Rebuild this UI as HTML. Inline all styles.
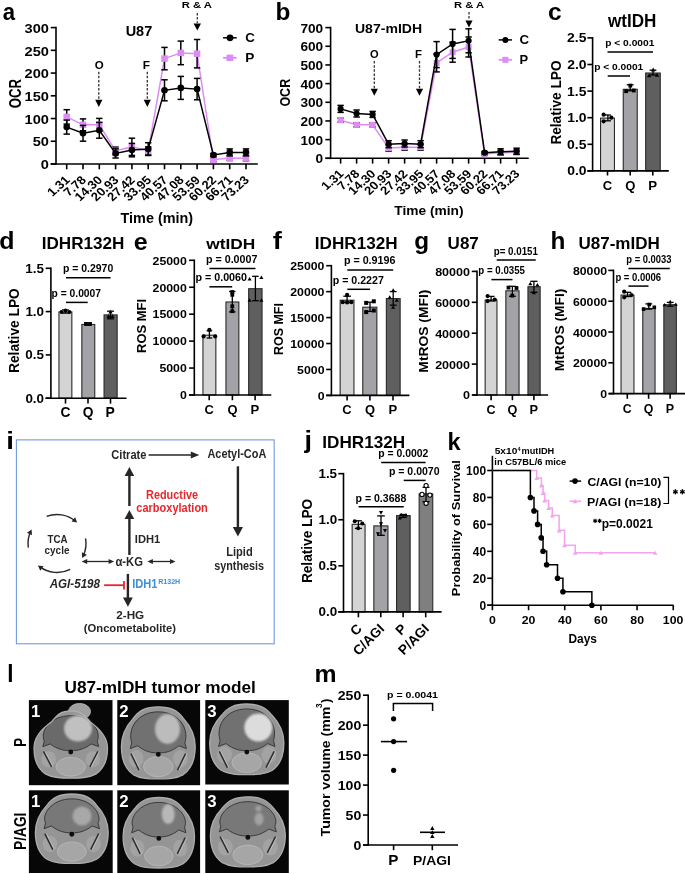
<!DOCTYPE html>
<html><head><meta charset="utf-8"><style>
html,body{margin:0;padding:0;background:#fff;}
svg{display:block;will-change:transform;}
text{font-family:"Liberation Sans", sans-serif;}
</style></head><body>
<svg width="685" height="874" viewBox="0 0 685 874">
<defs>
<filter id="bl07" x="-10%" y="-10%" width="120%" height="120%"><feGaussianBlur stdDeviation="0.7"/></filter>
<filter id="bl12" x="-50%" y="-50%" width="200%" height="200%"><feGaussianBlur stdDeviation="1.3"/></filter>
</defs>
<rect width="685" height="874" fill="#fff"/>
<rect x="28.9" y="700.1" width="83.60" height="85.10" fill="#070707"/><clipPath id="cp1700"><rect x="28.9" y="700.1" width="83.60" height="85.10"/></clipPath><clipPath id="hc1700"><path d="M 70.75 711.00 C 80.30 711.00 83.98 714.36 89.86 721.75 C 99.41 728.47 107.50 737.88 107.50 747.96 C 107.50 760.73 103.83 768.79 95.74 774.17 C 88.39 778.20 79.57 778.20 70.75 778.20 C 61.93 778.20 53.11 778.20 45.76 774.17 C 37.67 768.79 34.00 760.73 34.00 747.96 C 34.00 737.88 42.09 728.47 51.64 721.75 C 57.52 714.36 61.20 711.00 70.75 711.00 Z"/></clipPath><g clip-path="url(#cp1700)"><g filter="url(#bl07)"><ellipse cx="79.5" cy="711.5" rx="11.0" ry="8.0" fill="#a0a0a0" stroke="#b0b0b0" stroke-width="1.0"/><path d="M 70.75 711.00 C 80.30 711.00 83.98 714.36 89.86 721.75 C 99.41 728.47 107.50 737.88 107.50 747.96 C 107.50 760.73 103.83 768.79 95.74 774.17 C 88.39 778.20 79.57 778.20 70.75 778.20 C 61.93 778.20 53.11 778.20 45.76 774.17 C 37.67 768.79 34.00 760.73 34.00 747.96 C 34.00 737.88 42.09 728.47 51.64 721.75 C 57.52 714.36 61.20 711.00 70.75 711.00 Z" fill="#959595"/><g clip-path="url(#hc1700)"><ellipse cx="70.75" cy="766.78" rx="14.70" ry="9.41" fill="#a6a6a6" stroke="#bababa" stroke-width="0.8"/><ellipse cx="48.70" cy="759.38" rx="7.35" ry="8.06" fill="#a3a3a3"/><ellipse cx="92.80" cy="759.38" rx="7.35" ry="8.06" fill="#a3a3a3"/><path d="M 44.29 741.24 C 39.88 731.16 50.17 715.70 70.75 715.70 C 91.33 715.70 101.62 731.16 97.21 741.24 L 98.68 746.62 L 91.33 743.93 C 83.98 749.30 78.10 750.65 70.75 750.65 C 63.40 750.65 57.52 749.30 50.17 743.93 L 42.82 746.62 Z" fill="#6a6a6a" stroke="#3a3a3a" stroke-width="1.0"/><line x1="43.55" y1="751.32" x2="51.64" y2="766.78" stroke="#2e2e2e" stroke-width="1.6"/><line x1="45.05" y1="751.32" x2="53.14" y2="766.78" stroke="#c0c0c0" stroke-width="0.9"/><line x1="97.94" y1="751.32" x2="89.86" y2="766.78" stroke="#2e2e2e" stroke-width="1.6"/><line x1="99.44" y1="751.32" x2="91.36" y2="766.78" stroke="#c0c0c0" stroke-width="0.9"/><circle cx="70.75" cy="751.99" r="2.4" fill="#0a0a0a"/></g><path d="M 70.75 711.00 C 80.30 711.00 83.98 714.36 89.86 721.75 C 99.41 728.47 107.50 737.88 107.50 747.96 C 107.50 760.73 103.83 768.79 95.74 774.17 C 88.39 778.20 79.57 778.20 70.75 778.20 C 61.93 778.20 53.11 778.20 45.76 774.17 C 37.67 768.79 34.00 760.73 34.00 747.96 C 34.00 737.88 42.09 728.47 51.64 721.75 C 57.52 714.36 61.20 711.00 70.75 711.00 Z" fill="none" stroke="#adadad" stroke-width="1.3"/></g><ellipse cx="78.0" cy="728.5" rx="14.0" ry="13.0" fill="#c0c0c0" filter="url(#bl12)"/></g><text x="30.90" y="716.70" font-size="16.8" font-weight="bold" fill="#fff">1</text><rect x="117.3" y="700.1" width="82.80" height="85.10" fill="#070707"/><clipPath id="cp2700"><rect x="117.3" y="700.1" width="82.80" height="85.10"/></clipPath><clipPath id="hc2700"><path d="M 158.30 706.80 C 170.85 706.80 177.49 710.40 183.39 718.34 C 190.03 725.55 195.20 735.64 195.20 746.45 C 195.20 760.15 191.51 768.81 183.39 774.57 C 176.01 778.90 167.16 778.90 158.30 778.90 C 149.44 778.90 140.59 778.90 133.21 774.57 C 125.09 768.81 121.40 760.15 121.40 746.45 C 121.40 735.64 126.57 725.55 133.21 718.34 C 139.11 710.40 145.75 706.80 158.30 706.80 Z"/></clipPath><g clip-path="url(#cp2700)"><g filter="url(#bl07)"><path d="M 158.30 706.80 C 170.85 706.80 177.49 710.40 183.39 718.34 C 190.03 725.55 195.20 735.64 195.20 746.45 C 195.20 760.15 191.51 768.81 183.39 774.57 C 176.01 778.90 167.16 778.90 158.30 778.90 C 149.44 778.90 140.59 778.90 133.21 774.57 C 125.09 768.81 121.40 760.15 121.40 746.45 C 121.40 735.64 126.57 725.55 133.21 718.34 C 139.11 710.40 145.75 706.80 158.30 706.80 Z" fill="#959595"/><g clip-path="url(#hc2700)"><ellipse cx="158.30" cy="766.64" rx="14.76" ry="10.09" fill="#a6a6a6" stroke="#bababa" stroke-width="0.8"/><ellipse cx="136.16" cy="758.71" rx="7.38" ry="8.65" fill="#a3a3a3"/><ellipse cx="180.44" cy="758.71" rx="7.38" ry="8.65" fill="#a3a3a3"/><path d="M 131.73 742.85 C 127.30 728.43 137.64 711.85 158.30 711.85 C 178.96 711.85 189.30 728.43 184.87 742.85 L 186.34 748.62 L 178.96 745.73 C 171.58 751.50 165.68 752.94 158.30 752.94 C 150.92 752.94 145.02 751.50 137.64 745.73 L 130.26 748.62 Z" fill="#717171" stroke="#3a3a3a" stroke-width="1.0"/><line x1="130.99" y1="753.66" x2="139.11" y2="770.25" stroke="#2e2e2e" stroke-width="1.6"/><line x1="132.49" y1="753.66" x2="140.61" y2="770.25" stroke="#c0c0c0" stroke-width="0.9"/><line x1="185.61" y1="753.66" x2="177.49" y2="770.25" stroke="#2e2e2e" stroke-width="1.6"/><line x1="187.11" y1="753.66" x2="178.99" y2="770.25" stroke="#c0c0c0" stroke-width="0.9"/><circle cx="158.30" cy="754.39" r="2.4" fill="#0a0a0a"/></g><path d="M 158.30 706.80 C 170.85 706.80 177.49 710.40 183.39 718.34 C 190.03 725.55 195.20 735.64 195.20 746.45 C 195.20 760.15 191.51 768.81 183.39 774.57 C 176.01 778.90 167.16 778.90 158.30 778.90 C 149.44 778.90 140.59 778.90 133.21 774.57 C 125.09 768.81 121.40 760.15 121.40 746.45 C 121.40 735.64 126.57 725.55 133.21 718.34 C 139.11 710.40 145.75 706.80 158.30 706.80 Z" fill="none" stroke="#adadad" stroke-width="1.3"/></g><ellipse cx="167.5" cy="729.0" rx="12.5" ry="15.0" fill="#bcbcbc" filter="url(#bl12)"/></g><text x="119.30" y="716.70" font-size="16.8" font-weight="bold" fill="#fff">2</text><rect x="205.3" y="700.1" width="83.50" height="84.40" fill="#070707"/><clipPath id="cp3700"><rect x="205.3" y="700.1" width="83.50" height="84.40"/></clipPath><clipPath id="hc3700"><path d="M 246.80 704.00 C 259.41 704.00 266.09 707.53 272.03 715.31 C 278.71 722.38 283.90 732.28 283.90 742.88 C 283.90 756.32 280.19 764.80 272.03 770.46 C 264.61 774.70 255.70 774.70 246.80 774.70 C 237.90 774.70 228.99 774.70 221.57 770.46 C 213.41 764.80 209.70 756.32 209.70 742.88 C 209.70 732.28 214.89 722.38 221.57 715.31 C 227.51 707.53 234.19 704.00 246.80 704.00 Z"/></clipPath><g clip-path="url(#cp3700)"><g filter="url(#bl07)"><path d="M 246.80 704.00 C 259.41 704.00 266.09 707.53 272.03 715.31 C 278.71 722.38 283.90 732.28 283.90 742.88 C 283.90 756.32 280.19 764.80 272.03 770.46 C 264.61 774.70 255.70 774.70 246.80 774.70 C 237.90 774.70 228.99 774.70 221.57 770.46 C 213.41 764.80 209.70 756.32 209.70 742.88 C 209.70 732.28 214.89 722.38 221.57 715.31 C 227.51 707.53 234.19 704.00 246.80 704.00 Z" fill="#959595"/><g clip-path="url(#hc3700)"><ellipse cx="246.80" cy="762.68" rx="14.84" ry="9.90" fill="#a6a6a6" stroke="#bababa" stroke-width="0.8"/><ellipse cx="224.54" cy="754.90" rx="7.42" ry="8.48" fill="#a3a3a3"/><ellipse cx="269.06" cy="754.90" rx="7.42" ry="8.48" fill="#a3a3a3"/><path d="M 220.09 740.76 C 215.64 725.21 226.02 708.95 246.80 708.95 C 267.58 708.95 277.96 725.21 273.51 740.76 L 275.00 746.42 L 267.58 743.59 C 260.16 749.25 254.22 750.66 246.80 750.66 C 239.38 750.66 233.44 749.25 226.02 743.59 L 218.60 746.42 Z" fill="#717171" stroke="#3a3a3a" stroke-width="1.0"/><line x1="219.35" y1="751.37" x2="227.51" y2="767.63" stroke="#2e2e2e" stroke-width="1.6"/><line x1="220.85" y1="751.37" x2="229.01" y2="767.63" stroke="#c0c0c0" stroke-width="0.9"/><line x1="274.25" y1="751.37" x2="266.09" y2="767.63" stroke="#2e2e2e" stroke-width="1.6"/><line x1="275.75" y1="751.37" x2="267.59" y2="767.63" stroke="#c0c0c0" stroke-width="0.9"/><circle cx="246.80" cy="752.08" r="2.4" fill="#0a0a0a"/></g><path d="M 246.80 704.00 C 259.41 704.00 266.09 707.53 272.03 715.31 C 278.71 722.38 283.90 732.28 283.90 742.88 C 283.90 756.32 280.19 764.80 272.03 770.46 C 264.61 774.70 255.70 774.70 246.80 774.70 C 237.90 774.70 228.99 774.70 221.57 770.46 C 213.41 764.80 209.70 756.32 209.70 742.88 C 209.70 732.28 214.89 722.38 221.57 715.31 C 227.51 707.53 234.19 704.00 246.80 704.00 Z" fill="none" stroke="#adadad" stroke-width="1.3"/></g><ellipse cx="258.3" cy="727.6" rx="14.0" ry="14.0" fill="#dcdcdc" filter="url(#bl12)"/></g><text x="207.30" y="716.70" font-size="16.8" font-weight="bold" fill="#fff">3</text><rect x="28.9" y="790.3" width="83.80" height="82.70" fill="#070707"/><clipPath id="cp1790"><rect x="28.9" y="790.3" width="83.80" height="82.70"/></clipPath><clipPath id="hc1790"><path d="M 71.80 794.00 C 84.18 794.00 90.73 797.47 96.55 805.10 C 103.10 812.04 108.20 821.76 108.20 832.17 C 108.20 845.36 104.56 853.68 96.55 859.24 C 89.27 863.40 80.54 863.40 71.80 863.40 C 63.06 863.40 54.33 863.40 47.05 859.24 C 39.04 853.68 35.40 845.36 35.40 832.17 C 35.40 821.76 40.50 812.04 47.05 805.10 C 52.87 797.47 59.42 794.00 71.80 794.00 Z"/></clipPath><g clip-path="url(#cp1790)"><g filter="url(#bl07)"><path d="M 71.80 794.00 C 84.18 794.00 90.73 797.47 96.55 805.10 C 103.10 812.04 108.20 821.76 108.20 832.17 C 108.20 845.36 104.56 853.68 96.55 859.24 C 89.27 863.40 80.54 863.40 71.80 863.40 C 63.06 863.40 54.33 863.40 47.05 859.24 C 39.04 853.68 35.40 845.36 35.40 832.17 C 35.40 821.76 40.50 812.04 47.05 805.10 C 52.87 797.47 59.42 794.00 71.80 794.00 Z" fill="#959595"/><g clip-path="url(#hc1790)"><ellipse cx="71.80" cy="851.60" rx="14.56" ry="9.72" fill="#a6a6a6" stroke="#bababa" stroke-width="0.8"/><ellipse cx="49.96" cy="843.97" rx="7.28" ry="8.33" fill="#a3a3a3"/><ellipse cx="93.64" cy="843.97" rx="7.28" ry="8.33" fill="#a3a3a3"/><path d="M 45.59 823.15 C 41.22 814.82 51.42 798.86 71.80 798.86 C 92.18 798.86 102.38 814.82 98.01 823.15 L 99.46 828.70 L 92.18 825.92 C 84.90 831.48 79.08 832.86 71.80 832.86 C 64.52 832.86 58.70 831.48 51.42 825.92 L 44.14 828.70 Z" fill="#787878" stroke="#3a3a3a" stroke-width="1.0"/><line x1="44.86" y1="833.56" x2="52.87" y2="849.52" stroke="#2e2e2e" stroke-width="1.6"/><line x1="46.36" y1="833.56" x2="54.37" y2="849.52" stroke="#c0c0c0" stroke-width="0.9"/><line x1="98.74" y1="833.56" x2="90.73" y2="849.52" stroke="#2e2e2e" stroke-width="1.6"/><line x1="100.24" y1="833.56" x2="92.23" y2="849.52" stroke="#c0c0c0" stroke-width="0.9"/><circle cx="71.80" cy="834.25" r="2.4" fill="#0a0a0a"/></g><path d="M 71.80 794.00 C 84.18 794.00 90.73 797.47 96.55 805.10 C 103.10 812.04 108.20 821.76 108.20 832.17 C 108.20 845.36 104.56 853.68 96.55 859.24 C 89.27 863.40 80.54 863.40 71.80 863.40 C 63.06 863.40 54.33 863.40 47.05 859.24 C 39.04 853.68 35.40 845.36 35.40 832.17 C 35.40 821.76 40.50 812.04 47.05 805.10 C 52.87 797.47 59.42 794.00 71.80 794.00 Z" fill="none" stroke="#adadad" stroke-width="1.3"/></g><ellipse cx="82.0" cy="816.0" rx="9.5" ry="9.5" fill="#a8a8a8" filter="url(#bl12)"/></g><text x="30.90" y="806.90" font-size="16.8" font-weight="bold" fill="#fff">1</text><rect x="117.3" y="790.3" width="82.80" height="82.70" fill="#070707"/><clipPath id="cp2790"><rect x="117.3" y="790.3" width="82.80" height="82.70"/></clipPath><clipPath id="hc2790"><path d="M 158.80 797.50 C 170.94 797.50 177.36 801.02 183.08 808.78 C 189.50 815.83 194.50 825.70 194.50 836.27 C 194.50 849.67 190.93 858.13 183.08 863.77 C 175.94 868.00 167.37 868.00 158.80 868.00 C 150.23 868.00 141.66 868.00 134.52 863.77 C 126.67 858.13 123.10 849.67 123.10 836.27 C 123.10 825.70 128.10 815.83 134.52 808.78 C 140.24 801.02 146.66 797.50 158.80 797.50 Z"/></clipPath><g clip-path="url(#cp2790)"><g filter="url(#bl07)"><path d="M 158.80 797.50 C 170.94 797.50 177.36 801.02 183.08 808.78 C 189.50 815.83 194.50 825.70 194.50 836.27 C 194.50 849.67 190.93 858.13 183.08 863.77 C 175.94 868.00 167.37 868.00 158.80 868.00 C 150.23 868.00 141.66 868.00 134.52 863.77 C 126.67 858.13 123.10 849.67 123.10 836.27 C 123.10 825.70 128.10 815.83 134.52 808.78 C 140.24 801.02 146.66 797.50 158.80 797.50 Z" fill="#959595"/><g clip-path="url(#hc2790)"><ellipse cx="158.80" cy="856.01" rx="14.28" ry="9.87" fill="#a6a6a6" stroke="#bababa" stroke-width="0.8"/><ellipse cx="137.38" cy="848.26" rx="7.14" ry="8.46" fill="#a3a3a3"/><ellipse cx="180.22" cy="848.26" rx="7.14" ry="8.46" fill="#a3a3a3"/><path d="M 133.10 827.11 C 128.81 818.65 138.81 802.43 158.80 802.43 C 178.79 802.43 188.79 818.65 184.50 827.11 L 185.93 832.75 L 178.79 829.93 C 171.65 835.57 165.94 836.98 158.80 836.98 C 151.66 836.98 145.95 835.57 138.81 829.93 L 131.67 832.75 Z" fill="#787878" stroke="#3a3a3a" stroke-width="1.0"/><line x1="132.38" y1="837.68" x2="140.24" y2="853.90" stroke="#2e2e2e" stroke-width="1.6"/><line x1="133.88" y1="837.68" x2="141.74" y2="853.90" stroke="#c0c0c0" stroke-width="0.9"/><line x1="185.22" y1="837.68" x2="177.36" y2="853.90" stroke="#2e2e2e" stroke-width="1.6"/><line x1="186.72" y1="837.68" x2="178.86" y2="853.90" stroke="#c0c0c0" stroke-width="0.9"/><circle cx="158.80" cy="838.39" r="2.4" fill="#0a0a0a"/></g><path d="M 158.80 797.50 C 170.94 797.50 177.36 801.02 183.08 808.78 C 189.50 815.83 194.50 825.70 194.50 836.27 C 194.50 849.67 190.93 858.13 183.08 863.77 C 175.94 868.00 167.37 868.00 158.80 868.00 C 150.23 868.00 141.66 868.00 134.52 863.77 C 126.67 858.13 123.10 849.67 123.10 836.27 C 123.10 825.70 128.10 815.83 134.52 808.78 C 140.24 801.02 146.66 797.50 158.80 797.50 Z" fill="none" stroke="#adadad" stroke-width="1.3"/></g><ellipse cx="168.2" cy="814.1" rx="6.5" ry="10.0" fill="#b8b8b8" filter="url(#bl12)"/></g><text x="119.30" y="806.90" font-size="16.8" font-weight="bold" fill="#fff">2</text><rect x="205.3" y="790.3" width="83.50" height="82.70" fill="#070707"/><clipPath id="cp3790"><rect x="205.3" y="790.3" width="83.50" height="82.70"/></clipPath><clipPath id="hc3790"><path d="M 247.85 796.80 C 260.58 796.80 267.32 800.30 273.32 808.00 C 280.06 815.00 285.30 824.80 285.30 835.30 C 285.30 848.60 281.56 857.00 273.32 862.60 C 265.83 866.80 256.84 866.80 247.85 866.80 C 238.86 866.80 229.87 866.80 222.38 862.60 C 214.15 857.00 210.40 848.60 210.40 835.30 C 210.40 824.80 215.64 815.00 222.38 808.00 C 228.38 800.30 235.12 796.80 247.85 796.80 Z"/></clipPath><g clip-path="url(#cp3790)"><g filter="url(#bl07)"><path d="M 247.85 796.80 C 260.58 796.80 267.32 800.30 273.32 808.00 C 280.06 815.00 285.30 824.80 285.30 835.30 C 285.30 848.60 281.56 857.00 273.32 862.60 C 265.83 866.80 256.84 866.80 247.85 866.80 C 238.86 866.80 229.87 866.80 222.38 862.60 C 214.15 857.00 210.40 848.60 210.40 835.30 C 210.40 824.80 215.64 815.00 222.38 808.00 C 228.38 800.30 235.12 796.80 247.85 796.80 Z" fill="#959595"/><g clip-path="url(#hc3790)"><ellipse cx="247.85" cy="854.90" rx="14.98" ry="9.80" fill="#a6a6a6" stroke="#bababa" stroke-width="0.8"/><ellipse cx="225.38" cy="847.20" rx="7.49" ry="8.40" fill="#a3a3a3"/><ellipse cx="270.32" cy="847.20" rx="7.49" ry="8.40" fill="#a3a3a3"/><path d="M 220.89 826.20 C 216.39 817.80 226.88 801.70 247.85 801.70 C 268.82 801.70 279.31 817.80 274.81 826.20 L 276.31 831.80 L 268.82 829.00 C 261.33 834.60 255.34 836.00 247.85 836.00 C 240.36 836.00 234.37 834.60 226.88 829.00 L 219.39 831.80 Z" fill="#787878" stroke="#3a3a3a" stroke-width="1.0"/><line x1="220.14" y1="836.70" x2="228.38" y2="852.80" stroke="#2e2e2e" stroke-width="1.6"/><line x1="221.64" y1="836.70" x2="229.88" y2="852.80" stroke="#c0c0c0" stroke-width="0.9"/><line x1="275.56" y1="836.70" x2="267.32" y2="852.80" stroke="#2e2e2e" stroke-width="1.6"/><line x1="277.06" y1="836.70" x2="268.82" y2="852.80" stroke="#c0c0c0" stroke-width="0.9"/><circle cx="247.85" cy="837.40" r="2.4" fill="#0a0a0a"/></g><path d="M 247.85 796.80 C 260.58 796.80 267.32 800.30 273.32 808.00 C 280.06 815.00 285.30 824.80 285.30 835.30 C 285.30 848.60 281.56 857.00 273.32 862.60 C 265.83 866.80 256.84 866.80 247.85 866.80 C 238.86 866.80 229.87 866.80 222.38 862.60 C 214.15 857.00 210.40 848.60 210.40 835.30 C 210.40 824.80 215.64 815.00 222.38 808.00 C 228.38 800.30 235.12 796.80 247.85 796.80 Z" fill="none" stroke="#adadad" stroke-width="1.3"/></g><ellipse cx="259.0" cy="819.0" rx="4.5" ry="6.5" fill="#a2a2a2" filter="url(#bl12)"/><ellipse cx="258.5" cy="808.5" rx="3.0" ry="3.0" fill="#a0a0a0" filter="url(#bl12)"/></g><text x="207.30" y="806.90" font-size="16.8" font-weight="bold" fill="#fff">3</text>
<text transform="translate(2.84 19.60) scale(0.9092 1)" font-size="24.37" font-weight="bold" fill="#000">a</text>
<line x1="56.00" y1="26.79" x2="56.00" y2="164.80" stroke="#000" stroke-width="1.6"/>
<line x1="50.80" y1="164.00" x2="56.00" y2="164.00" stroke="#000" stroke-width="1.6"/>
<text transform="translate(40.77 169.20) scale(1.1070 1)" font-size="13.20" font-weight="bold" fill="#000">0</text>
<line x1="50.80" y1="141.26" x2="56.00" y2="141.26" stroke="#000" stroke-width="1.6"/>
<text transform="translate(32.66 146.46) scale(1.1070 1)" font-size="13.20" font-weight="bold" fill="#000">50</text>
<line x1="50.80" y1="118.53" x2="56.00" y2="118.53" stroke="#000" stroke-width="1.6"/>
<text transform="translate(24.52 123.73) scale(1.1070 1)" font-size="13.20" font-weight="bold" fill="#000">100</text>
<line x1="50.80" y1="95.80" x2="56.00" y2="95.80" stroke="#000" stroke-width="1.6"/>
<text transform="translate(24.52 101.00) scale(1.1070 1)" font-size="13.20" font-weight="bold" fill="#000">150</text>
<line x1="50.80" y1="73.06" x2="56.00" y2="73.06" stroke="#000" stroke-width="1.6"/>
<text transform="translate(24.52 78.26) scale(1.1070 1)" font-size="13.20" font-weight="bold" fill="#000">200</text>
<line x1="50.80" y1="50.33" x2="56.00" y2="50.33" stroke="#000" stroke-width="1.6"/>
<text transform="translate(24.52 55.53) scale(1.1070 1)" font-size="13.20" font-weight="bold" fill="#000">250</text>
<line x1="50.80" y1="27.59" x2="56.00" y2="27.59" stroke="#000" stroke-width="1.6"/>
<text transform="translate(24.52 32.79) scale(1.1070 1)" font-size="13.20" font-weight="bold" fill="#000">300</text>
<line x1="50.60" y1="164.00" x2="257.80" y2="164.00" stroke="#000" stroke-width="1.6"/>
<line x1="66.70" y1="164.00" x2="66.70" y2="169.30" stroke="#000" stroke-width="1.6"/>
<line x1="83.00" y1="164.00" x2="83.00" y2="169.30" stroke="#000" stroke-width="1.6"/>
<line x1="99.30" y1="164.00" x2="99.30" y2="169.30" stroke="#000" stroke-width="1.6"/>
<line x1="115.60" y1="164.00" x2="115.60" y2="169.30" stroke="#000" stroke-width="1.6"/>
<line x1="131.90" y1="164.00" x2="131.90" y2="169.30" stroke="#000" stroke-width="1.6"/>
<line x1="148.20" y1="164.00" x2="148.20" y2="169.30" stroke="#000" stroke-width="1.6"/>
<line x1="164.50" y1="164.00" x2="164.50" y2="169.30" stroke="#000" stroke-width="1.6"/>
<line x1="180.80" y1="164.00" x2="180.80" y2="169.30" stroke="#000" stroke-width="1.6"/>
<line x1="197.10" y1="164.00" x2="197.10" y2="169.30" stroke="#000" stroke-width="1.6"/>
<line x1="213.40" y1="164.00" x2="213.40" y2="169.30" stroke="#000" stroke-width="1.6"/>
<line x1="229.70" y1="164.00" x2="229.70" y2="169.30" stroke="#000" stroke-width="1.6"/>
<line x1="246.00" y1="164.00" x2="246.00" y2="169.30" stroke="#000" stroke-width="1.6"/>
<text transform="translate(125.63 35.80) scale(1.0222 1)" font-size="14.19" font-weight="bold" fill="#000">U87</text>
<text transform="translate(20.84 108.23) rotate(-90) scale(0.8189 1)" font-size="16.11" font-weight="bold" fill="#000">OCR</text>
<text transform="translate(94.64 68.80) scale(1.0427 1)" font-size="11.04" font-weight="bold" fill="#000">O</text>
<text transform="translate(142.80 68.80) scale(1.0695 1)" font-size="11.05" font-weight="bold" fill="#000">F</text>
<text transform="translate(181.64 8.10) scale(1.2592 1)" font-size="8.95" font-weight="bold" fill="#000">R &amp; A</text>
<line x1="98.80" y1="71.70" x2="98.80" y2="99.50" stroke="#333" stroke-width="1.3" stroke-dasharray="2.5 1.6"/>
<polygon points="95.20,99.80 102.40,99.80 98.80,106.90" fill="#000" stroke="none" stroke-width="1"/>
<line x1="147.30" y1="71.70" x2="147.30" y2="99.50" stroke="#333" stroke-width="1.3" stroke-dasharray="2.5 1.6"/>
<polygon points="143.70,99.80 150.90,99.80 147.30,106.90" fill="#000" stroke="none" stroke-width="1"/>
<line x1="197.30" y1="13.00" x2="197.30" y2="23.00" stroke="#333" stroke-width="1.3" stroke-dasharray="2.5 1.6"/>
<polygon points="193.60,23.40 201.00,23.40 197.30,30.40" fill="#000" stroke="none" stroke-width="1"/>
<polyline points="66.70,116.90 83.00,124.80 99.30,124.80 115.60,150.90 131.90,146.80 148.20,150.90 164.50,58.60 180.80,52.90 197.10,53.70 213.40,159.80 229.70,158.00 246.00,158.30" fill="none" stroke="#dc8cf4" stroke-width="1.5" stroke-linejoin="miter"/>
<line x1="66.70" y1="109.70" x2="66.70" y2="124.10" stroke="#000" stroke-width="1.5"/>
<line x1="63.50" y1="109.70" x2="69.90" y2="109.70" stroke="#000" stroke-width="1.5"/>
<line x1="63.50" y1="124.10" x2="69.90" y2="124.10" stroke="#000" stroke-width="1.5"/>
<line x1="83.00" y1="118.90" x2="83.00" y2="130.70" stroke="#000" stroke-width="1.5"/>
<line x1="79.80" y1="118.90" x2="86.20" y2="118.90" stroke="#000" stroke-width="1.5"/>
<line x1="79.80" y1="130.70" x2="86.20" y2="130.70" stroke="#000" stroke-width="1.5"/>
<line x1="99.30" y1="118.40" x2="99.30" y2="131.20" stroke="#000" stroke-width="1.5"/>
<line x1="96.10" y1="118.40" x2="102.50" y2="118.40" stroke="#000" stroke-width="1.5"/>
<line x1="96.10" y1="131.20" x2="102.50" y2="131.20" stroke="#000" stroke-width="1.5"/>
<line x1="115.60" y1="147.10" x2="115.60" y2="154.70" stroke="#000" stroke-width="1.5"/>
<line x1="112.40" y1="147.10" x2="118.80" y2="147.10" stroke="#000" stroke-width="1.5"/>
<line x1="112.40" y1="154.70" x2="118.80" y2="154.70" stroke="#000" stroke-width="1.5"/>
<line x1="131.90" y1="138.20" x2="131.90" y2="155.40" stroke="#000" stroke-width="1.5"/>
<line x1="128.70" y1="138.20" x2="135.10" y2="138.20" stroke="#000" stroke-width="1.5"/>
<line x1="128.70" y1="155.40" x2="135.10" y2="155.40" stroke="#000" stroke-width="1.5"/>
<line x1="148.20" y1="146.90" x2="148.20" y2="154.90" stroke="#000" stroke-width="1.5"/>
<line x1="145.00" y1="146.90" x2="151.40" y2="146.90" stroke="#000" stroke-width="1.5"/>
<line x1="145.00" y1="154.90" x2="151.40" y2="154.90" stroke="#000" stroke-width="1.5"/>
<line x1="164.50" y1="47.40" x2="164.50" y2="69.80" stroke="#000" stroke-width="1.5"/>
<line x1="161.30" y1="47.40" x2="167.70" y2="47.40" stroke="#000" stroke-width="1.5"/>
<line x1="161.30" y1="69.80" x2="167.70" y2="69.80" stroke="#000" stroke-width="1.5"/>
<line x1="180.80" y1="41.10" x2="180.80" y2="64.70" stroke="#000" stroke-width="1.5"/>
<line x1="177.60" y1="41.10" x2="184.00" y2="41.10" stroke="#000" stroke-width="1.5"/>
<line x1="177.60" y1="64.70" x2="184.00" y2="64.70" stroke="#000" stroke-width="1.5"/>
<line x1="197.10" y1="39.50" x2="197.10" y2="67.90" stroke="#000" stroke-width="1.5"/>
<line x1="193.90" y1="39.50" x2="200.30" y2="39.50" stroke="#000" stroke-width="1.5"/>
<line x1="193.90" y1="67.90" x2="200.30" y2="67.90" stroke="#000" stroke-width="1.5"/>
<line x1="213.40" y1="157.80" x2="213.40" y2="161.80" stroke="#000" stroke-width="1.5"/>
<line x1="210.20" y1="157.80" x2="216.60" y2="157.80" stroke="#000" stroke-width="1.5"/>
<line x1="210.20" y1="161.80" x2="216.60" y2="161.80" stroke="#000" stroke-width="1.5"/>
<line x1="229.70" y1="155.50" x2="229.70" y2="160.50" stroke="#000" stroke-width="1.5"/>
<line x1="226.50" y1="155.50" x2="232.90" y2="155.50" stroke="#000" stroke-width="1.5"/>
<line x1="226.50" y1="160.50" x2="232.90" y2="160.50" stroke="#000" stroke-width="1.5"/>
<line x1="246.00" y1="155.80" x2="246.00" y2="160.80" stroke="#000" stroke-width="1.5"/>
<line x1="242.80" y1="155.80" x2="249.20" y2="155.80" stroke="#000" stroke-width="1.5"/>
<line x1="242.80" y1="160.80" x2="249.20" y2="160.80" stroke="#000" stroke-width="1.5"/>
<rect x="63.45" y="113.65" width="6.50" height="6.50" fill="#dc8cf4"/>
<rect x="79.75" y="121.55" width="6.50" height="6.50" fill="#dc8cf4"/>
<rect x="96.05" y="121.55" width="6.50" height="6.50" fill="#dc8cf4"/>
<rect x="112.35" y="147.65" width="6.50" height="6.50" fill="#dc8cf4"/>
<rect x="128.65" y="143.55" width="6.50" height="6.50" fill="#dc8cf4"/>
<rect x="144.95" y="147.65" width="6.50" height="6.50" fill="#dc8cf4"/>
<rect x="161.25" y="55.35" width="6.50" height="6.50" fill="#dc8cf4"/>
<rect x="177.55" y="49.65" width="6.50" height="6.50" fill="#dc8cf4"/>
<rect x="193.85" y="50.45" width="6.50" height="6.50" fill="#dc8cf4"/>
<rect x="210.15" y="156.55" width="6.50" height="6.50" fill="#dc8cf4"/>
<rect x="226.45" y="154.75" width="6.50" height="6.50" fill="#dc8cf4"/>
<rect x="242.75" y="155.05" width="6.50" height="6.50" fill="#dc8cf4"/>
<polyline points="66.70,127.10 83.00,133.30 99.30,130.30 115.60,153.40 131.90,150.10 148.20,149.10 164.50,90.30 180.80,87.90 197.10,89.10 213.40,155.00 229.70,152.40 246.00,152.40" fill="none" stroke="#000" stroke-width="1.5" stroke-linejoin="miter"/>
<line x1="66.70" y1="120.10" x2="66.70" y2="134.10" stroke="#000" stroke-width="1.5"/>
<line x1="63.50" y1="120.10" x2="69.90" y2="120.10" stroke="#000" stroke-width="1.5"/>
<line x1="63.50" y1="134.10" x2="69.90" y2="134.10" stroke="#000" stroke-width="1.5"/>
<line x1="83.00" y1="125.40" x2="83.00" y2="141.20" stroke="#000" stroke-width="1.5"/>
<line x1="79.80" y1="125.40" x2="86.20" y2="125.40" stroke="#000" stroke-width="1.5"/>
<line x1="79.80" y1="141.20" x2="86.20" y2="141.20" stroke="#000" stroke-width="1.5"/>
<line x1="99.30" y1="122.40" x2="99.30" y2="138.20" stroke="#000" stroke-width="1.5"/>
<line x1="96.10" y1="122.40" x2="102.50" y2="122.40" stroke="#000" stroke-width="1.5"/>
<line x1="96.10" y1="138.20" x2="102.50" y2="138.20" stroke="#000" stroke-width="1.5"/>
<line x1="115.60" y1="148.80" x2="115.60" y2="158.00" stroke="#000" stroke-width="1.5"/>
<line x1="112.40" y1="148.80" x2="118.80" y2="148.80" stroke="#000" stroke-width="1.5"/>
<line x1="112.40" y1="158.00" x2="118.80" y2="158.00" stroke="#000" stroke-width="1.5"/>
<line x1="131.90" y1="143.40" x2="131.90" y2="156.80" stroke="#000" stroke-width="1.5"/>
<line x1="128.70" y1="143.40" x2="135.10" y2="143.40" stroke="#000" stroke-width="1.5"/>
<line x1="128.70" y1="156.80" x2="135.10" y2="156.80" stroke="#000" stroke-width="1.5"/>
<line x1="148.20" y1="142.70" x2="148.20" y2="155.50" stroke="#000" stroke-width="1.5"/>
<line x1="145.00" y1="142.70" x2="151.40" y2="142.70" stroke="#000" stroke-width="1.5"/>
<line x1="145.00" y1="155.50" x2="151.40" y2="155.50" stroke="#000" stroke-width="1.5"/>
<line x1="164.50" y1="79.80" x2="164.50" y2="100.80" stroke="#000" stroke-width="1.5"/>
<line x1="161.30" y1="79.80" x2="167.70" y2="79.80" stroke="#000" stroke-width="1.5"/>
<line x1="161.30" y1="100.80" x2="167.70" y2="100.80" stroke="#000" stroke-width="1.5"/>
<line x1="180.80" y1="76.40" x2="180.80" y2="99.40" stroke="#000" stroke-width="1.5"/>
<line x1="177.60" y1="76.40" x2="184.00" y2="76.40" stroke="#000" stroke-width="1.5"/>
<line x1="177.60" y1="99.40" x2="184.00" y2="99.40" stroke="#000" stroke-width="1.5"/>
<line x1="197.10" y1="78.40" x2="197.10" y2="99.80" stroke="#000" stroke-width="1.5"/>
<line x1="193.90" y1="78.40" x2="200.30" y2="78.40" stroke="#000" stroke-width="1.5"/>
<line x1="193.90" y1="99.80" x2="200.30" y2="99.80" stroke="#000" stroke-width="1.5"/>
<line x1="213.40" y1="153.50" x2="213.40" y2="156.50" stroke="#000" stroke-width="1.5"/>
<line x1="210.20" y1="153.50" x2="216.60" y2="153.50" stroke="#000" stroke-width="1.5"/>
<line x1="210.20" y1="156.50" x2="216.60" y2="156.50" stroke="#000" stroke-width="1.5"/>
<line x1="229.70" y1="148.90" x2="229.70" y2="155.90" stroke="#000" stroke-width="1.5"/>
<line x1="226.50" y1="148.90" x2="232.90" y2="148.90" stroke="#000" stroke-width="1.5"/>
<line x1="226.50" y1="155.90" x2="232.90" y2="155.90" stroke="#000" stroke-width="1.5"/>
<line x1="246.00" y1="148.90" x2="246.00" y2="155.90" stroke="#000" stroke-width="1.5"/>
<line x1="242.80" y1="148.90" x2="249.20" y2="148.90" stroke="#000" stroke-width="1.5"/>
<line x1="242.80" y1="155.90" x2="249.20" y2="155.90" stroke="#000" stroke-width="1.5"/>
<circle cx="66.70" cy="127.10" r="3.3" fill="#000"/>
<circle cx="83.00" cy="133.30" r="3.3" fill="#000"/>
<circle cx="99.30" cy="130.30" r="3.3" fill="#000"/>
<circle cx="115.60" cy="153.40" r="3.3" fill="#000"/>
<circle cx="131.90" cy="150.10" r="3.3" fill="#000"/>
<circle cx="148.20" cy="149.10" r="3.3" fill="#000"/>
<circle cx="164.50" cy="90.30" r="3.3" fill="#000"/>
<circle cx="180.80" cy="87.90" r="3.3" fill="#000"/>
<circle cx="197.10" cy="89.10" r="3.3" fill="#000"/>
<circle cx="213.40" cy="155.00" r="3.3" fill="#000"/>
<circle cx="229.70" cy="152.40" r="3.3" fill="#000"/>
<circle cx="246.00" cy="152.40" r="3.3" fill="#000"/>
<line x1="223.10" y1="37.80" x2="236.70" y2="37.80" stroke="#000" stroke-width="1.5"/>
<circle cx="230.00" cy="37.80" r="3.4" fill="#000"/>
<text transform="translate(245.17 42.40) scale(1.0410 1)" font-size="12.76" font-weight="bold" fill="#000">C</text>
<line x1="223.10" y1="57.80" x2="236.70" y2="57.80" stroke="#dc8cf4" stroke-width="1.8"/>
<rect x="226.50" y="54.60" width="6.80" height="6.40" fill="#dc8cf4"/>
<text transform="translate(245.18 62.00) scale(1.0527 1)" font-size="12.95" font-weight="bold" fill="#000">P</text>
<text transform="translate(70.55 180.70) scale(1.100 1) rotate(-45)" font-size="11.90" font-weight="bold" text-anchor="end" fill="#000">1.31</text>
<text transform="translate(86.85 180.70) scale(1.100 1) rotate(-45)" font-size="11.90" font-weight="bold" text-anchor="end" fill="#000">7.78</text>
<text transform="translate(103.15 180.70) scale(1.100 1) rotate(-45)" font-size="11.90" font-weight="bold" text-anchor="end" fill="#000">14.30</text>
<text transform="translate(119.45 180.70) scale(1.100 1) rotate(-45)" font-size="11.90" font-weight="bold" text-anchor="end" fill="#000">20.93</text>
<text transform="translate(135.75 180.70) scale(1.100 1) rotate(-45)" font-size="11.90" font-weight="bold" text-anchor="end" fill="#000">27.42</text>
<text transform="translate(152.05 180.70) scale(1.100 1) rotate(-45)" font-size="11.90" font-weight="bold" text-anchor="end" fill="#000">33.95</text>
<text transform="translate(168.35 180.70) scale(1.100 1) rotate(-45)" font-size="11.90" font-weight="bold" text-anchor="end" fill="#000">40.57</text>
<text transform="translate(184.65 180.70) scale(1.100 1) rotate(-45)" font-size="11.90" font-weight="bold" text-anchor="end" fill="#000">47.08</text>
<text transform="translate(200.95 180.70) scale(1.100 1) rotate(-45)" font-size="11.90" font-weight="bold" text-anchor="end" fill="#000">53.59</text>
<text transform="translate(217.25 180.70) scale(1.100 1) rotate(-45)" font-size="11.90" font-weight="bold" text-anchor="end" fill="#000">60.22</text>
<text transform="translate(233.55 180.70) scale(1.100 1) rotate(-45)" font-size="11.90" font-weight="bold" text-anchor="end" fill="#000">66.71</text>
<text transform="translate(249.85 180.70) scale(1.100 1) rotate(-45)" font-size="11.90" font-weight="bold" text-anchor="end" fill="#000">73.23</text>
<text transform="translate(120.56 222.70) scale(1.0253 1)" font-size="14.07" font-weight="bold" fill="#000">Time (min)</text>
<text transform="translate(275.52 19.70) scale(0.9865 1)" font-size="24.69" font-weight="bold" fill="#000">b</text>
<line x1="330.60" y1="26.80" x2="330.60" y2="159.10" stroke="#000" stroke-width="1.6"/>
<line x1="325.40" y1="158.30" x2="330.60" y2="158.30" stroke="#000" stroke-width="1.6"/>
<text transform="translate(315.57 163.20) scale(1.1100 1)" font-size="12.30" font-weight="bold" fill="#000">0</text>
<line x1="325.40" y1="139.63" x2="330.60" y2="139.63" stroke="#000" stroke-width="1.6"/>
<text transform="translate(300.38 144.53) scale(1.1100 1)" font-size="12.30" font-weight="bold" fill="#000">100</text>
<line x1="325.40" y1="120.96" x2="330.60" y2="120.96" stroke="#000" stroke-width="1.6"/>
<text transform="translate(300.38 125.86) scale(1.1100 1)" font-size="12.30" font-weight="bold" fill="#000">200</text>
<line x1="325.40" y1="102.29" x2="330.60" y2="102.29" stroke="#000" stroke-width="1.6"/>
<text transform="translate(300.38 107.19) scale(1.1100 1)" font-size="12.30" font-weight="bold" fill="#000">300</text>
<line x1="325.40" y1="83.62" x2="330.60" y2="83.62" stroke="#000" stroke-width="1.6"/>
<text transform="translate(300.38 88.52) scale(1.1100 1)" font-size="12.30" font-weight="bold" fill="#000">400</text>
<line x1="325.40" y1="64.95" x2="330.60" y2="64.95" stroke="#000" stroke-width="1.6"/>
<text transform="translate(300.38 69.85) scale(1.1100 1)" font-size="12.30" font-weight="bold" fill="#000">500</text>
<line x1="325.40" y1="46.27" x2="330.60" y2="46.27" stroke="#000" stroke-width="1.6"/>
<text transform="translate(300.38 51.17) scale(1.1100 1)" font-size="12.30" font-weight="bold" fill="#000">600</text>
<line x1="325.40" y1="27.60" x2="330.60" y2="27.60" stroke="#000" stroke-width="1.6"/>
<text transform="translate(300.38 32.50) scale(1.1100 1)" font-size="12.30" font-weight="bold" fill="#000">700</text>
<line x1="325.30" y1="158.30" x2="528.70" y2="158.30" stroke="#000" stroke-width="1.6"/>
<line x1="340.60" y1="158.30" x2="340.60" y2="163.60" stroke="#000" stroke-width="1.6"/>
<line x1="356.60" y1="158.30" x2="356.60" y2="163.60" stroke="#000" stroke-width="1.6"/>
<line x1="372.60" y1="158.30" x2="372.60" y2="163.60" stroke="#000" stroke-width="1.6"/>
<line x1="388.60" y1="158.30" x2="388.60" y2="163.60" stroke="#000" stroke-width="1.6"/>
<line x1="404.60" y1="158.30" x2="404.60" y2="163.60" stroke="#000" stroke-width="1.6"/>
<line x1="420.60" y1="158.30" x2="420.60" y2="163.60" stroke="#000" stroke-width="1.6"/>
<line x1="436.60" y1="158.30" x2="436.60" y2="163.60" stroke="#000" stroke-width="1.6"/>
<line x1="452.60" y1="158.30" x2="452.60" y2="163.60" stroke="#000" stroke-width="1.6"/>
<line x1="468.60" y1="158.30" x2="468.60" y2="163.60" stroke="#000" stroke-width="1.6"/>
<line x1="484.60" y1="158.30" x2="484.60" y2="163.60" stroke="#000" stroke-width="1.6"/>
<line x1="500.60" y1="158.30" x2="500.60" y2="163.60" stroke="#000" stroke-width="1.6"/>
<line x1="516.60" y1="158.30" x2="516.60" y2="163.60" stroke="#000" stroke-width="1.6"/>
<text transform="translate(354.96 32.50) scale(1.0774 1)" font-size="13.05" font-weight="bold" fill="#000">U87-mIDH</text>
<text transform="translate(289.55 106.60) rotate(-90) scale(0.8423 1)" font-size="14.84" font-weight="bold" fill="#000">OCR</text>
<text transform="translate(370.06 58.00) scale(1.0586 1)" font-size="10.47" font-weight="bold" fill="#000">O</text>
<text transform="translate(415.03 58.20) scale(1.0763 1)" font-size="10.62" font-weight="bold" fill="#000">F</text>
<text transform="translate(453.94 8.20) scale(1.1789 1)" font-size="9.53" font-weight="bold" fill="#000">R &amp; A</text>
<line x1="374.30" y1="61.10" x2="374.30" y2="88.40" stroke="#333" stroke-width="1.3" stroke-dasharray="2.5 1.6"/>
<polygon points="370.70,88.80 377.90,88.80 374.30,95.80" fill="#000" stroke="none" stroke-width="1"/>
<line x1="419.50" y1="61.10" x2="419.50" y2="88.40" stroke="#333" stroke-width="1.3" stroke-dasharray="2.5 1.6"/>
<polygon points="415.90,88.80 423.10,88.80 419.50,95.80" fill="#000" stroke="none" stroke-width="1"/>
<line x1="469.00" y1="12.00" x2="469.00" y2="20.20" stroke="#333" stroke-width="1.3" stroke-dasharray="2.5 1.6"/>
<polygon points="465.40,20.40 472.60,20.40 469.00,27.60" fill="#000" stroke="none" stroke-width="1"/>
<polyline points="340.60,120.20 356.60,124.80 372.60,124.80 388.60,148.10 404.60,147.20 420.60,147.20 436.60,62.90 452.60,52.20 468.60,47.00 484.60,154.00 500.60,152.70 516.60,152.40" fill="none" stroke="#dc8cf4" stroke-width="1.5" stroke-linejoin="miter"/>
<line x1="340.60" y1="118.20" x2="340.60" y2="122.20" stroke="#000" stroke-width="1.5"/>
<line x1="337.40" y1="118.20" x2="343.80" y2="118.20" stroke="#000" stroke-width="1.5"/>
<line x1="337.40" y1="122.20" x2="343.80" y2="122.20" stroke="#000" stroke-width="1.5"/>
<line x1="356.60" y1="122.80" x2="356.60" y2="126.80" stroke="#000" stroke-width="1.5"/>
<line x1="353.40" y1="122.80" x2="359.80" y2="122.80" stroke="#000" stroke-width="1.5"/>
<line x1="353.40" y1="126.80" x2="359.80" y2="126.80" stroke="#000" stroke-width="1.5"/>
<line x1="372.60" y1="122.80" x2="372.60" y2="126.80" stroke="#000" stroke-width="1.5"/>
<line x1="369.40" y1="122.80" x2="375.80" y2="122.80" stroke="#000" stroke-width="1.5"/>
<line x1="369.40" y1="126.80" x2="375.80" y2="126.80" stroke="#000" stroke-width="1.5"/>
<line x1="388.60" y1="145.10" x2="388.60" y2="151.10" stroke="#000" stroke-width="1.5"/>
<line x1="385.40" y1="145.10" x2="391.80" y2="145.10" stroke="#000" stroke-width="1.5"/>
<line x1="385.40" y1="151.10" x2="391.80" y2="151.10" stroke="#000" stroke-width="1.5"/>
<line x1="404.60" y1="144.20" x2="404.60" y2="150.20" stroke="#000" stroke-width="1.5"/>
<line x1="401.40" y1="144.20" x2="407.80" y2="144.20" stroke="#000" stroke-width="1.5"/>
<line x1="401.40" y1="150.20" x2="407.80" y2="150.20" stroke="#000" stroke-width="1.5"/>
<line x1="420.60" y1="144.20" x2="420.60" y2="150.20" stroke="#000" stroke-width="1.5"/>
<line x1="417.40" y1="144.20" x2="423.80" y2="144.20" stroke="#000" stroke-width="1.5"/>
<line x1="417.40" y1="150.20" x2="423.80" y2="150.20" stroke="#000" stroke-width="1.5"/>
<line x1="436.60" y1="53.90" x2="436.60" y2="71.90" stroke="#000" stroke-width="1.5"/>
<line x1="433.40" y1="53.90" x2="439.80" y2="53.90" stroke="#000" stroke-width="1.5"/>
<line x1="433.40" y1="71.90" x2="439.80" y2="71.90" stroke="#000" stroke-width="1.5"/>
<line x1="452.60" y1="42.20" x2="452.60" y2="62.20" stroke="#000" stroke-width="1.5"/>
<line x1="449.40" y1="42.20" x2="455.80" y2="42.20" stroke="#000" stroke-width="1.5"/>
<line x1="449.40" y1="62.20" x2="455.80" y2="62.20" stroke="#000" stroke-width="1.5"/>
<line x1="468.60" y1="37.00" x2="468.60" y2="57.00" stroke="#000" stroke-width="1.5"/>
<line x1="465.40" y1="37.00" x2="471.80" y2="37.00" stroke="#000" stroke-width="1.5"/>
<line x1="465.40" y1="57.00" x2="471.80" y2="57.00" stroke="#000" stroke-width="1.5"/>
<line x1="484.60" y1="152.80" x2="484.60" y2="155.20" stroke="#000" stroke-width="1.5"/>
<line x1="481.40" y1="152.80" x2="487.80" y2="152.80" stroke="#000" stroke-width="1.5"/>
<line x1="481.40" y1="155.20" x2="487.80" y2="155.20" stroke="#000" stroke-width="1.5"/>
<line x1="500.60" y1="150.70" x2="500.60" y2="154.70" stroke="#000" stroke-width="1.5"/>
<line x1="497.40" y1="150.70" x2="503.80" y2="150.70" stroke="#000" stroke-width="1.5"/>
<line x1="497.40" y1="154.70" x2="503.80" y2="154.70" stroke="#000" stroke-width="1.5"/>
<line x1="516.60" y1="150.40" x2="516.60" y2="154.40" stroke="#000" stroke-width="1.5"/>
<line x1="513.40" y1="150.40" x2="519.80" y2="150.40" stroke="#000" stroke-width="1.5"/>
<line x1="513.40" y1="154.40" x2="519.80" y2="154.40" stroke="#000" stroke-width="1.5"/>
<rect x="337.60" y="117.20" width="6.00" height="6.00" fill="#dc8cf4"/>
<rect x="353.60" y="121.80" width="6.00" height="6.00" fill="#dc8cf4"/>
<rect x="369.60" y="121.80" width="6.00" height="6.00" fill="#dc8cf4"/>
<rect x="385.60" y="145.10" width="6.00" height="6.00" fill="#dc8cf4"/>
<rect x="401.60" y="144.20" width="6.00" height="6.00" fill="#dc8cf4"/>
<rect x="417.60" y="144.20" width="6.00" height="6.00" fill="#dc8cf4"/>
<rect x="433.60" y="59.90" width="6.00" height="6.00" fill="#dc8cf4"/>
<rect x="449.60" y="49.20" width="6.00" height="6.00" fill="#dc8cf4"/>
<rect x="465.60" y="44.00" width="6.00" height="6.00" fill="#dc8cf4"/>
<rect x="481.60" y="151.00" width="6.00" height="6.00" fill="#dc8cf4"/>
<rect x="497.60" y="149.70" width="6.00" height="6.00" fill="#dc8cf4"/>
<rect x="513.60" y="149.40" width="6.00" height="6.00" fill="#dc8cf4"/>
<polyline points="340.60,108.90 356.60,113.50 372.60,114.40 388.60,144.20 404.60,143.50 420.60,144.20 436.60,54.60 452.60,43.90 468.60,40.80 484.60,152.70 500.60,151.80 516.60,151.20" fill="none" stroke="#000" stroke-width="1.5" stroke-linejoin="miter"/>
<line x1="340.60" y1="105.40" x2="340.60" y2="112.40" stroke="#000" stroke-width="1.5"/>
<line x1="337.40" y1="105.40" x2="343.80" y2="105.40" stroke="#000" stroke-width="1.5"/>
<line x1="337.40" y1="112.40" x2="343.80" y2="112.40" stroke="#000" stroke-width="1.5"/>
<line x1="356.60" y1="110.00" x2="356.60" y2="117.00" stroke="#000" stroke-width="1.5"/>
<line x1="353.40" y1="110.00" x2="359.80" y2="110.00" stroke="#000" stroke-width="1.5"/>
<line x1="353.40" y1="117.00" x2="359.80" y2="117.00" stroke="#000" stroke-width="1.5"/>
<line x1="372.60" y1="111.40" x2="372.60" y2="117.40" stroke="#000" stroke-width="1.5"/>
<line x1="369.40" y1="111.40" x2="375.80" y2="111.40" stroke="#000" stroke-width="1.5"/>
<line x1="369.40" y1="117.40" x2="375.80" y2="117.40" stroke="#000" stroke-width="1.5"/>
<line x1="388.60" y1="140.70" x2="388.60" y2="147.70" stroke="#000" stroke-width="1.5"/>
<line x1="385.40" y1="140.70" x2="391.80" y2="140.70" stroke="#000" stroke-width="1.5"/>
<line x1="385.40" y1="147.70" x2="391.80" y2="147.70" stroke="#000" stroke-width="1.5"/>
<line x1="404.60" y1="140.00" x2="404.60" y2="147.00" stroke="#000" stroke-width="1.5"/>
<line x1="401.40" y1="140.00" x2="407.80" y2="140.00" stroke="#000" stroke-width="1.5"/>
<line x1="401.40" y1="147.00" x2="407.80" y2="147.00" stroke="#000" stroke-width="1.5"/>
<line x1="420.60" y1="140.70" x2="420.60" y2="147.70" stroke="#000" stroke-width="1.5"/>
<line x1="417.40" y1="140.70" x2="423.80" y2="140.70" stroke="#000" stroke-width="1.5"/>
<line x1="417.40" y1="147.70" x2="423.80" y2="147.70" stroke="#000" stroke-width="1.5"/>
<line x1="436.60" y1="41.60" x2="436.60" y2="67.60" stroke="#000" stroke-width="1.5"/>
<line x1="433.40" y1="41.60" x2="439.80" y2="41.60" stroke="#000" stroke-width="1.5"/>
<line x1="433.40" y1="67.60" x2="439.80" y2="67.60" stroke="#000" stroke-width="1.5"/>
<line x1="452.60" y1="29.40" x2="452.60" y2="58.40" stroke="#000" stroke-width="1.5"/>
<line x1="449.40" y1="29.40" x2="455.80" y2="29.40" stroke="#000" stroke-width="1.5"/>
<line x1="449.40" y1="58.40" x2="455.80" y2="58.40" stroke="#000" stroke-width="1.5"/>
<line x1="468.60" y1="28.80" x2="468.60" y2="52.80" stroke="#000" stroke-width="1.5"/>
<line x1="465.40" y1="28.80" x2="471.80" y2="28.80" stroke="#000" stroke-width="1.5"/>
<line x1="465.40" y1="52.80" x2="471.80" y2="52.80" stroke="#000" stroke-width="1.5"/>
<line x1="484.60" y1="151.50" x2="484.60" y2="153.90" stroke="#000" stroke-width="1.5"/>
<line x1="481.40" y1="151.50" x2="487.80" y2="151.50" stroke="#000" stroke-width="1.5"/>
<line x1="481.40" y1="153.90" x2="487.80" y2="153.90" stroke="#000" stroke-width="1.5"/>
<line x1="500.60" y1="148.80" x2="500.60" y2="154.80" stroke="#000" stroke-width="1.5"/>
<line x1="497.40" y1="148.80" x2="503.80" y2="148.80" stroke="#000" stroke-width="1.5"/>
<line x1="497.40" y1="154.80" x2="503.80" y2="154.80" stroke="#000" stroke-width="1.5"/>
<line x1="516.60" y1="148.20" x2="516.60" y2="154.20" stroke="#000" stroke-width="1.5"/>
<line x1="513.40" y1="148.20" x2="519.80" y2="148.20" stroke="#000" stroke-width="1.5"/>
<line x1="513.40" y1="154.20" x2="519.80" y2="154.20" stroke="#000" stroke-width="1.5"/>
<circle cx="340.60" cy="108.90" r="3.1" fill="#000"/>
<circle cx="356.60" cy="113.50" r="3.1" fill="#000"/>
<circle cx="372.60" cy="114.40" r="3.1" fill="#000"/>
<circle cx="388.60" cy="144.20" r="3.1" fill="#000"/>
<circle cx="404.60" cy="143.50" r="3.1" fill="#000"/>
<circle cx="420.60" cy="144.20" r="3.1" fill="#000"/>
<circle cx="436.60" cy="54.60" r="3.1" fill="#000"/>
<circle cx="452.60" cy="43.90" r="3.1" fill="#000"/>
<circle cx="468.60" cy="40.80" r="3.1" fill="#000"/>
<circle cx="484.60" cy="152.70" r="3.1" fill="#000"/>
<circle cx="500.60" cy="151.80" r="3.1" fill="#000"/>
<circle cx="516.60" cy="151.20" r="3.1" fill="#000"/>
<line x1="498.70" y1="39.90" x2="512.00" y2="39.90" stroke="#000" stroke-width="1.5"/>
<circle cx="505.40" cy="39.90" r="3.0" fill="#000"/>
<text transform="translate(519.47 44.40) scale(1.0773 1)" font-size="12.33" font-weight="bold" fill="#000">C</text>
<line x1="498.70" y1="59.80" x2="512.00" y2="59.80" stroke="#dc8cf4" stroke-width="1.8"/>
<rect x="502.40" y="56.80" width="6.00" height="6.00" fill="#dc8cf4"/>
<text transform="translate(519.43 64.20) scale(1.0450 1)" font-size="12.36" font-weight="bold" fill="#000">P</text>
<text transform="translate(344.40 174.60) scale(1.100 1) rotate(-45)" font-size="11.80" font-weight="bold" text-anchor="end" fill="#000">1.31</text>
<text transform="translate(360.40 174.60) scale(1.100 1) rotate(-45)" font-size="11.80" font-weight="bold" text-anchor="end" fill="#000">7.78</text>
<text transform="translate(376.40 174.60) scale(1.100 1) rotate(-45)" font-size="11.80" font-weight="bold" text-anchor="end" fill="#000">14.30</text>
<text transform="translate(392.40 174.60) scale(1.100 1) rotate(-45)" font-size="11.80" font-weight="bold" text-anchor="end" fill="#000">20.93</text>
<text transform="translate(408.40 174.60) scale(1.100 1) rotate(-45)" font-size="11.80" font-weight="bold" text-anchor="end" fill="#000">27.42</text>
<text transform="translate(424.40 174.60) scale(1.100 1) rotate(-45)" font-size="11.80" font-weight="bold" text-anchor="end" fill="#000">33.95</text>
<text transform="translate(440.40 174.60) scale(1.100 1) rotate(-45)" font-size="11.80" font-weight="bold" text-anchor="end" fill="#000">40.57</text>
<text transform="translate(456.40 174.60) scale(1.100 1) rotate(-45)" font-size="11.80" font-weight="bold" text-anchor="end" fill="#000">47.08</text>
<text transform="translate(472.40 174.60) scale(1.100 1) rotate(-45)" font-size="11.80" font-weight="bold" text-anchor="end" fill="#000">53.59</text>
<text transform="translate(488.40 174.60) scale(1.100 1) rotate(-45)" font-size="11.80" font-weight="bold" text-anchor="end" fill="#000">60.22</text>
<text transform="translate(504.40 174.60) scale(1.100 1) rotate(-45)" font-size="11.80" font-weight="bold" text-anchor="end" fill="#000">66.71</text>
<text transform="translate(520.40 174.60) scale(1.100 1) rotate(-45)" font-size="11.80" font-weight="bold" text-anchor="end" fill="#000">73.23</text>
<text transform="translate(394.36 215.20) scale(1.1070 1)" font-size="12.41" font-weight="bold" fill="#000">Time (min)</text>
<text transform="translate(548.02 19.60) scale(0.9948 1)" font-size="24.74" font-weight="bold" fill="#000">c</text>
<text transform="translate(607.94 27.30) scale(0.9792 1)" font-size="17.45" font-weight="bold" fill="#000">wtIDH</text>
<rect x="600.55" y="118.10" width="13.90" height="52.80" fill="#d4d4d4" stroke="#2a2a2a" stroke-width="1.1"/>
<rect x="623.25" y="89.30" width="14.00" height="81.60" fill="#a3a2a6" stroke="#2a2a2a" stroke-width="1.1"/>
<rect x="645.65" y="73.00" width="14.60" height="97.90" fill="#5f5f5f" stroke="#2a2a2a" stroke-width="1.1"/>
<line x1="592.60" y1="37.10" x2="592.60" y2="171.70" stroke="#000" stroke-width="1.6"/>
<line x1="587.40" y1="170.90" x2="592.60" y2="170.90" stroke="#000" stroke-width="1.6"/>
<text transform="translate(567.21 175.40) scale(1.1600 1)" font-size="12.00" font-weight="bold" fill="#000">0.0</text>
<line x1="587.40" y1="144.30" x2="592.60" y2="144.30" stroke="#000" stroke-width="1.6"/>
<text transform="translate(567.03 148.80) scale(1.1600 1)" font-size="12.00" font-weight="bold" fill="#000">0.5</text>
<line x1="587.40" y1="117.70" x2="592.60" y2="117.70" stroke="#000" stroke-width="1.6"/>
<text transform="translate(567.21 122.20) scale(1.1600 1)" font-size="12.00" font-weight="bold" fill="#000">1.0</text>
<line x1="587.40" y1="91.10" x2="592.60" y2="91.10" stroke="#000" stroke-width="1.6"/>
<text transform="translate(567.03 95.60) scale(1.1600 1)" font-size="12.00" font-weight="bold" fill="#000">1.5</text>
<line x1="587.40" y1="64.50" x2="592.60" y2="64.50" stroke="#000" stroke-width="1.6"/>
<text transform="translate(567.21 69.00) scale(1.1600 1)" font-size="12.00" font-weight="bold" fill="#000">2.0</text>
<line x1="587.40" y1="37.90" x2="592.60" y2="37.90" stroke="#000" stroke-width="1.6"/>
<text transform="translate(567.03 42.40) scale(1.1600 1)" font-size="12.00" font-weight="bold" fill="#000">2.5</text>
<line x1="587.40" y1="170.90" x2="668.80" y2="170.90" stroke="#000" stroke-width="1.6"/>
<line x1="607.50" y1="170.90" x2="607.50" y2="175.50" stroke="#000" stroke-width="1.6"/>
<line x1="630.20" y1="170.90" x2="630.20" y2="175.50" stroke="#000" stroke-width="1.6"/>
<line x1="652.80" y1="170.90" x2="652.80" y2="175.50" stroke="#000" stroke-width="1.6"/>
<text transform="translate(602.70 189.70) scale(0.9700 1)" font-size="13.48" font-weight="bold" fill="#000">C</text>
<text transform="translate(625.13 189.70) scale(0.9700 1)" font-size="13.48" font-weight="bold" fill="#000">Q</text>
<text transform="translate(648.16 189.70) scale(0.9700 1)" font-size="13.67" font-weight="bold" fill="#000">P</text>
<text transform="translate(561.15 144.62) rotate(-90) scale(0.9047 1)" font-size="15.10" font-weight="bold" fill="#000">Relative LPO</text>
<line x1="607.50" y1="51.90" x2="653.00" y2="51.90" stroke="#000" stroke-width="1.5"/>
<text transform="translate(605.24 45.90) scale(1.0334 1)" font-size="9.89" font-weight="bold" fill="#000">p &lt; 0.0001</text>
<line x1="607.70" y1="76.00" x2="630.00" y2="76.00" stroke="#000" stroke-width="1.5"/>
<text transform="translate(594.24 70.00) scale(1.0804 1)" font-size="9.46" font-weight="bold" fill="#000">p &lt; 0.0001</text>
<line x1="607.90" y1="115.00" x2="607.90" y2="120.80" stroke="#000" stroke-width="1.3"/>
<line x1="604.90" y1="115.00" x2="610.90" y2="115.00" stroke="#000" stroke-width="1.3"/>
<line x1="604.90" y1="120.80" x2="610.90" y2="120.80" stroke="#000" stroke-width="1.3"/>
<circle cx="603.60" cy="114.70" r="2.1" fill="#000"/>
<circle cx="611.30" cy="117.70" r="2.1" fill="#000"/>
<circle cx="603.60" cy="121.30" r="2.1" fill="#000"/>
<line x1="630.20" y1="84.80" x2="630.20" y2="90.80" stroke="#000" stroke-width="1.3"/>
<line x1="626.80" y1="84.80" x2="633.60" y2="84.80" stroke="#000" stroke-width="1.3"/>
<line x1="626.80" y1="90.80" x2="633.60" y2="90.80" stroke="#000" stroke-width="1.3"/>
<rect x="624.20" y="89.30" width="3.80" height="3.80" fill="#000"/>
<rect x="631.90" y="88.60" width="3.80" height="3.80" fill="#000"/>
<rect x="628.40" y="83.70" width="3.80" height="3.80" fill="#000"/>
<line x1="653.00" y1="70.20" x2="653.00" y2="75.00" stroke="#000" stroke-width="1.3"/>
<line x1="649.60" y1="70.20" x2="656.40" y2="70.20" stroke="#000" stroke-width="1.3"/>
<line x1="649.60" y1="75.00" x2="656.40" y2="75.00" stroke="#000" stroke-width="1.3"/>
<polygon points="649.10,73.52 646.93,77.28 651.27,77.28" fill="#000" stroke="none" stroke-width="1"/>
<polygon points="657.10,73.02 654.93,76.78 659.27,76.78" fill="#000" stroke="none" stroke-width="1"/>
<polygon points="653.20,67.62 651.03,71.38 655.37,71.38" fill="#000" stroke="none" stroke-width="1"/>
<text transform="translate(-0.80 249.30) scale(1.0278 1)" font-size="24.28" font-weight="bold" fill="#000">d</text>
<text transform="translate(41.74 248.80) scale(1.0388 1)" font-size="16.49" font-weight="bold" fill="#000">IDHR132H</text>
<rect x="58.95" y="311.90" width="12.90" height="86.30" fill="#d4d4d4" stroke="#2a2a2a" stroke-width="1.1"/>
<rect x="81.85" y="324.50" width="12.90" height="73.70" fill="#a3a2a6" stroke="#2a2a2a" stroke-width="1.1"/>
<rect x="104.05" y="314.90" width="13.10" height="83.30" fill="#5f5f5f" stroke="#2a2a2a" stroke-width="1.1"/>
<line x1="50.90" y1="267.50" x2="50.90" y2="399.00" stroke="#000" stroke-width="1.6"/>
<line x1="45.70" y1="398.20" x2="50.90" y2="398.20" stroke="#000" stroke-width="1.6"/>
<text transform="translate(25.38 402.50) scale(1.1000 1)" font-size="12.20" font-weight="bold" fill="#000">0.0</text>
<line x1="45.70" y1="354.90" x2="50.90" y2="354.90" stroke="#000" stroke-width="1.6"/>
<text transform="translate(25.22 359.20) scale(1.1000 1)" font-size="12.20" font-weight="bold" fill="#000">0.5</text>
<line x1="45.70" y1="311.60" x2="50.90" y2="311.60" stroke="#000" stroke-width="1.6"/>
<text transform="translate(25.38 315.90) scale(1.1000 1)" font-size="12.20" font-weight="bold" fill="#000">1.0</text>
<line x1="45.70" y1="268.30" x2="50.90" y2="268.30" stroke="#000" stroke-width="1.6"/>
<text transform="translate(25.22 272.60) scale(1.1000 1)" font-size="12.20" font-weight="bold" fill="#000">1.5</text>
<line x1="45.50" y1="398.20" x2="126.50" y2="398.20" stroke="#000" stroke-width="1.6"/>
<line x1="65.50" y1="398.20" x2="65.50" y2="403.60" stroke="#000" stroke-width="1.6"/>
<line x1="88.00" y1="398.20" x2="88.00" y2="403.60" stroke="#000" stroke-width="1.6"/>
<line x1="110.50" y1="398.20" x2="110.50" y2="403.60" stroke="#000" stroke-width="1.6"/>
<text transform="translate(60.44 417.10) scale(1.0000 1)" font-size="13.76" font-weight="bold" fill="#000">C</text>
<text transform="translate(82.67 417.10) scale(1.0000 1)" font-size="13.76" font-weight="bold" fill="#000">Q</text>
<text transform="translate(105.61 417.10) scale(1.0000 1)" font-size="13.96" font-weight="bold" fill="#000">P</text>
<text transform="translate(19.35 372.93) rotate(-90) scale(0.9431 1)" font-size="14.56" font-weight="bold" fill="#000">Relative LPO</text>
<line x1="66.00" y1="277.70" x2="110.60" y2="277.70" stroke="#000" stroke-width="1.5"/>
<text transform="translate(62.92 272.00) scale(0.9882 1)" font-size="10.61" font-weight="bold" fill="#000">p = 0.2970</text>
<line x1="66.00" y1="302.40" x2="87.70" y2="302.40" stroke="#000" stroke-width="1.5"/>
<text transform="translate(51.53 296.70) scale(0.9451 1)" font-size="10.90" font-weight="bold" fill="#000">p = 0.0007</text>
<line x1="65.50" y1="309.90" x2="65.50" y2="313.10" stroke="#000" stroke-width="1.3"/>
<line x1="62.10" y1="309.90" x2="68.90" y2="309.90" stroke="#000" stroke-width="1.3"/>
<line x1="62.10" y1="313.10" x2="68.90" y2="313.10" stroke="#000" stroke-width="1.3"/>
<circle cx="61.50" cy="312.00" r="1.9" fill="#000"/>
<circle cx="65.50" cy="310.40" r="1.9" fill="#000"/>
<circle cx="69.50" cy="312.00" r="1.9" fill="#000"/>
<line x1="88.00" y1="322.80" x2="88.00" y2="325.20" stroke="#000" stroke-width="1.3"/>
<line x1="84.60" y1="322.80" x2="91.40" y2="322.80" stroke="#000" stroke-width="1.3"/>
<line x1="84.60" y1="325.20" x2="91.40" y2="325.20" stroke="#000" stroke-width="1.3"/>
<rect x="84.00" y="322.20" width="3.60" height="3.60" fill="#000"/>
<rect x="88.40" y="322.20" width="3.60" height="3.60" fill="#000"/>
<line x1="110.50" y1="311.20" x2="110.50" y2="318.80" stroke="#000" stroke-width="1.3"/>
<line x1="107.10" y1="311.20" x2="113.90" y2="311.20" stroke="#000" stroke-width="1.3"/>
<line x1="107.10" y1="318.80" x2="113.90" y2="318.80" stroke="#000" stroke-width="1.3"/>
<polygon points="108.50,314.34 106.45,317.90 110.55,317.90" fill="#000" stroke="none" stroke-width="1"/>
<polygon points="110.50,309.84 108.45,313.40 112.55,313.40" fill="#000" stroke="none" stroke-width="1"/>
<polygon points="112.50,314.34 110.45,317.90 114.55,317.90" fill="#000" stroke="none" stroke-width="1"/>
<text transform="translate(133.70 249.50) scale(1.0135 1)" font-size="24.74" font-weight="bold" fill="#000">e</text>
<text transform="translate(206.24 248.90) scale(1.1356 1)" font-size="15.27" font-weight="bold" fill="#000">wtIDH</text>
<rect x="202.95" y="335.20" width="12.90" height="59.80" fill="#d4d4d4" stroke="#2a2a2a" stroke-width="1.1"/>
<rect x="225.95" y="302.00" width="12.90" height="93.00" fill="#a3a2a6" stroke="#2a2a2a" stroke-width="1.1"/>
<rect x="248.65" y="288.70" width="13.40" height="106.30" fill="#5f5f5f" stroke="#2a2a2a" stroke-width="1.1"/>
<line x1="194.30" y1="259.50" x2="194.30" y2="395.80" stroke="#000" stroke-width="1.6"/>
<line x1="189.10" y1="395.00" x2="194.30" y2="395.00" stroke="#000" stroke-width="1.6"/>
<text transform="translate(179.96 399.30) scale(1.1200 1)" font-size="11.00" font-weight="bold" fill="#000">0</text>
<line x1="189.10" y1="368.06" x2="194.30" y2="368.06" stroke="#000" stroke-width="1.6"/>
<text transform="translate(159.41 372.36) scale(1.1200 1)" font-size="11.00" font-weight="bold" fill="#000">5000</text>
<line x1="189.10" y1="341.12" x2="194.30" y2="341.12" stroke="#000" stroke-width="1.6"/>
<text transform="translate(152.54 345.42) scale(1.1200 1)" font-size="11.00" font-weight="bold" fill="#000">10000</text>
<line x1="189.10" y1="314.18" x2="194.30" y2="314.18" stroke="#000" stroke-width="1.6"/>
<text transform="translate(152.54 318.48) scale(1.1200 1)" font-size="11.00" font-weight="bold" fill="#000">15000</text>
<line x1="189.10" y1="287.24" x2="194.30" y2="287.24" stroke="#000" stroke-width="1.6"/>
<text transform="translate(152.54 291.54) scale(1.1200 1)" font-size="11.00" font-weight="bold" fill="#000">20000</text>
<line x1="189.10" y1="260.30" x2="194.30" y2="260.30" stroke="#000" stroke-width="1.6"/>
<text transform="translate(152.54 264.60) scale(1.1200 1)" font-size="11.00" font-weight="bold" fill="#000">25000</text>
<line x1="189.00" y1="395.00" x2="271.30" y2="395.00" stroke="#000" stroke-width="1.6"/>
<line x1="209.20" y1="395.00" x2="209.20" y2="400.20" stroke="#000" stroke-width="1.6"/>
<line x1="232.40" y1="395.00" x2="232.40" y2="400.20" stroke="#000" stroke-width="1.6"/>
<line x1="255.10" y1="395.00" x2="255.10" y2="400.20" stroke="#000" stroke-width="1.6"/>
<text transform="translate(204.46 414.30) scale(1.0000 1)" font-size="12.90" font-weight="bold" fill="#000">C</text>
<text transform="translate(227.40 414.30) scale(1.0000 1)" font-size="12.90" font-weight="bold" fill="#000">Q</text>
<text transform="translate(250.52 414.30) scale(1.0000 1)" font-size="13.09" font-weight="bold" fill="#000">P</text>
<text transform="translate(146.17 352.98) rotate(-90) scale(1.0084 1)" font-size="12.86" font-weight="bold" fill="#000">ROS MFI</text>
<line x1="209.40" y1="268.40" x2="255.50" y2="268.40" stroke="#000" stroke-width="1.5"/>
<text transform="translate(206.00 262.70) scale(1.0368 1)" font-size="10.32" font-weight="bold" fill="#000">p = 0.0007</text>
<line x1="209.40" y1="286.80" x2="232.20" y2="286.80" stroke="#000" stroke-width="1.5"/>
<text transform="translate(195.40 280.80) scale(1.0261 1)" font-size="10.47" font-weight="bold" fill="#000">p = 0.0060</text>
<line x1="209.40" y1="330.80" x2="209.40" y2="338.00" stroke="#000" stroke-width="1.3"/>
<line x1="206.60" y1="330.80" x2="212.20" y2="330.80" stroke="#000" stroke-width="1.3"/>
<line x1="206.60" y1="338.00" x2="212.20" y2="338.00" stroke="#000" stroke-width="1.3"/>
<circle cx="203.60" cy="336.40" r="2.1" fill="#000"/>
<circle cx="215.20" cy="336.40" r="2.1" fill="#000"/>
<circle cx="209.40" cy="329.80" r="2.1" fill="#000"/>
<line x1="232.30" y1="291.50" x2="232.30" y2="311.90" stroke="#000" stroke-width="1.3"/>
<line x1="229.10" y1="291.50" x2="235.50" y2="291.50" stroke="#000" stroke-width="1.3"/>
<line x1="229.10" y1="311.90" x2="235.50" y2="311.90" stroke="#000" stroke-width="1.3"/>
<rect x="230.40" y="290.10" width="3.80" height="3.80" fill="#000"/>
<rect x="230.40" y="292.90" width="3.80" height="3.80" fill="#000"/>
<rect x="230.40" y="304.40" width="3.80" height="3.80" fill="#000"/>
<rect x="230.40" y="309.30" width="3.80" height="3.80" fill="#000"/>
<line x1="255.40" y1="276.30" x2="255.40" y2="300.70" stroke="#000" stroke-width="1.3"/>
<line x1="252.10" y1="276.30" x2="258.70" y2="276.30" stroke="#000" stroke-width="1.3"/>
<line x1="252.10" y1="300.70" x2="258.70" y2="300.70" stroke="#000" stroke-width="1.3"/>
<polygon points="249.60,277.04 247.55,280.60 251.65,280.60" fill="#000" stroke="none" stroke-width="1"/>
<polygon points="261.40,275.44 259.35,279.00 263.45,279.00" fill="#000" stroke="none" stroke-width="1"/>
<polygon points="249.60,298.14 247.55,301.70 251.65,301.70" fill="#000" stroke="none" stroke-width="1"/>
<polygon points="261.40,298.14 259.35,301.70 263.45,301.70" fill="#000" stroke="none" stroke-width="1"/>
<text transform="translate(272.72 248.90) scale(1.1352 1)" font-size="24.14" font-weight="bold" fill="#000">f</text>
<text transform="translate(314.84 248.80) scale(1.0211 1)" font-size="16.77" font-weight="bold" fill="#000">IDHR132H</text>
<rect x="340.15" y="300.20" width="13.80" height="95.20" fill="#d4d4d4" stroke="#2a2a2a" stroke-width="1.1"/>
<rect x="362.75" y="307.20" width="14.10" height="88.20" fill="#a3a2a6" stroke="#2a2a2a" stroke-width="1.1"/>
<rect x="386.35" y="298.60" width="13.80" height="96.80" fill="#5f5f5f" stroke="#2a2a2a" stroke-width="1.1"/>
<line x1="331.40" y1="264.90" x2="331.40" y2="396.20" stroke="#000" stroke-width="1.6"/>
<line x1="326.20" y1="395.40" x2="331.40" y2="395.40" stroke="#000" stroke-width="1.6"/>
<text transform="translate(317.66 399.70) scale(1.1200 1)" font-size="11.00" font-weight="bold" fill="#000">0</text>
<line x1="326.20" y1="369.46" x2="331.40" y2="369.46" stroke="#000" stroke-width="1.6"/>
<text transform="translate(297.11 373.76) scale(1.1200 1)" font-size="11.00" font-weight="bold" fill="#000">5000</text>
<line x1="326.20" y1="343.52" x2="331.40" y2="343.52" stroke="#000" stroke-width="1.6"/>
<text transform="translate(290.24 347.82) scale(1.1200 1)" font-size="11.00" font-weight="bold" fill="#000">10000</text>
<line x1="326.20" y1="317.58" x2="331.40" y2="317.58" stroke="#000" stroke-width="1.6"/>
<text transform="translate(290.24 321.88) scale(1.1200 1)" font-size="11.00" font-weight="bold" fill="#000">15000</text>
<line x1="326.20" y1="291.64" x2="331.40" y2="291.64" stroke="#000" stroke-width="1.6"/>
<text transform="translate(290.24 295.94) scale(1.1200 1)" font-size="11.00" font-weight="bold" fill="#000">20000</text>
<line x1="326.20" y1="265.70" x2="331.40" y2="265.70" stroke="#000" stroke-width="1.6"/>
<text transform="translate(290.24 270.00) scale(1.1200 1)" font-size="11.00" font-weight="bold" fill="#000">25000</text>
<line x1="326.20" y1="395.40" x2="409.40" y2="395.40" stroke="#000" stroke-width="1.6"/>
<line x1="347.10" y1="395.40" x2="347.10" y2="400.60" stroke="#000" stroke-width="1.6"/>
<line x1="369.90" y1="395.40" x2="369.90" y2="400.60" stroke="#000" stroke-width="1.6"/>
<line x1="393.00" y1="395.40" x2="393.00" y2="400.60" stroke="#000" stroke-width="1.6"/>
<text transform="translate(342.36 414.30) scale(1.0000 1)" font-size="12.90" font-weight="bold" fill="#000">C</text>
<text transform="translate(364.90 414.30) scale(1.0000 1)" font-size="12.90" font-weight="bold" fill="#000">Q</text>
<text transform="translate(388.42 414.30) scale(1.0000 1)" font-size="13.09" font-weight="bold" fill="#000">P</text>
<text transform="translate(283.27 355.04) rotate(-90) scale(0.9698 1)" font-size="12.86" font-weight="bold" fill="#000">ROS MFI</text>
<line x1="347.30" y1="269.90" x2="393.20" y2="269.90" stroke="#000" stroke-width="1.5"/>
<text transform="translate(343.90 264.40) scale(0.9593 1)" font-size="11.18" font-weight="bold" fill="#000">p = 0.9196</text>
<line x1="347.30" y1="289.30" x2="370.10" y2="289.30" stroke="#000" stroke-width="1.5"/>
<text transform="translate(332.71 283.60) scale(0.9763 1)" font-size="10.90" font-weight="bold" fill="#000">p = 0.2227</text>
<line x1="347.10" y1="296.20" x2="347.10" y2="302.40" stroke="#000" stroke-width="1.3"/>
<line x1="343.30" y1="296.20" x2="350.90" y2="296.20" stroke="#000" stroke-width="1.3"/>
<line x1="343.30" y1="302.40" x2="350.90" y2="302.40" stroke="#000" stroke-width="1.3"/>
<circle cx="347.10" cy="294.90" r="2.1" fill="#000"/>
<circle cx="342.70" cy="302.20" r="2.1" fill="#000"/>
<circle cx="351.30" cy="302.20" r="2.1" fill="#000"/>
<circle cx="347.10" cy="302.40" r="2.1" fill="#000"/>
<line x1="370.00" y1="302.20" x2="370.00" y2="311.40" stroke="#000" stroke-width="1.3"/>
<line x1="366.60" y1="302.20" x2="373.40" y2="302.20" stroke="#000" stroke-width="1.3"/>
<line x1="366.60" y1="311.40" x2="373.40" y2="311.40" stroke="#000" stroke-width="1.3"/>
<rect x="364.20" y="300.90" width="4.00" height="4.00" fill="#000"/>
<rect x="371.80" y="299.30" width="4.00" height="4.00" fill="#000"/>
<rect x="364.20" y="310.10" width="4.00" height="4.00" fill="#000"/>
<rect x="371.80" y="308.50" width="4.00" height="4.00" fill="#000"/>
<line x1="393.20" y1="291.60" x2="393.20" y2="305.20" stroke="#000" stroke-width="1.3"/>
<line x1="389.80" y1="291.60" x2="396.60" y2="291.60" stroke="#000" stroke-width="1.3"/>
<line x1="389.80" y1="305.20" x2="396.60" y2="305.20" stroke="#000" stroke-width="1.3"/>
<polygon points="389.70,295.14 387.65,298.70 391.75,298.70" fill="#000" stroke="none" stroke-width="1"/>
<polygon points="396.80,298.14 394.75,301.70 398.85,301.70" fill="#000" stroke="none" stroke-width="1"/>
<polygon points="393.20,288.14 391.15,291.70 395.25,291.70" fill="#000" stroke="none" stroke-width="1"/>
<polygon points="393.20,305.14 391.15,308.70 395.25,308.70" fill="#000" stroke="none" stroke-width="1"/>
<text transform="translate(414.13 249.00) scale(1.0308 1)" font-size="23.63" font-weight="bold" fill="#000">g</text>
<text transform="translate(447.58 249.00) scale(1.0079 1)" font-size="16.92" font-weight="bold" fill="#000">U87</text>
<rect x="485.15" y="300.00" width="11.80" height="95.00" fill="#d4d4d4" stroke="#2a2a2a" stroke-width="1.1"/>
<rect x="505.85" y="290.80" width="13.20" height="104.20" fill="#a3a2a6" stroke="#2a2a2a" stroke-width="1.1"/>
<rect x="527.95" y="286.70" width="12.20" height="108.30" fill="#5f5f5f" stroke="#2a2a2a" stroke-width="1.1"/>
<line x1="477.00" y1="270.60" x2="477.00" y2="395.80" stroke="#000" stroke-width="1.6"/>
<line x1="471.80" y1="395.00" x2="477.00" y2="395.00" stroke="#000" stroke-width="1.6"/>
<text transform="translate(463.04 399.40) scale(1.1100 1)" font-size="11.30" font-weight="bold" fill="#000">0</text>
<line x1="471.80" y1="364.10" x2="477.00" y2="364.10" stroke="#000" stroke-width="1.6"/>
<text transform="translate(435.13 368.50) scale(1.1100 1)" font-size="11.30" font-weight="bold" fill="#000">20000</text>
<line x1="471.80" y1="333.20" x2="477.00" y2="333.20" stroke="#000" stroke-width="1.6"/>
<text transform="translate(435.13 337.60) scale(1.1100 1)" font-size="11.30" font-weight="bold" fill="#000">40000</text>
<line x1="471.80" y1="302.30" x2="477.00" y2="302.30" stroke="#000" stroke-width="1.6"/>
<text transform="translate(435.13 306.70) scale(1.1100 1)" font-size="11.30" font-weight="bold" fill="#000">60000</text>
<line x1="471.80" y1="271.40" x2="477.00" y2="271.40" stroke="#000" stroke-width="1.6"/>
<text transform="translate(435.13 275.80) scale(1.1100 1)" font-size="11.30" font-weight="bold" fill="#000">80000</text>
<line x1="472.40" y1="395.00" x2="548.10" y2="395.00" stroke="#000" stroke-width="1.6"/>
<line x1="491.10" y1="395.00" x2="491.10" y2="400.20" stroke="#000" stroke-width="1.6"/>
<line x1="512.40" y1="395.00" x2="512.40" y2="400.20" stroke="#000" stroke-width="1.6"/>
<line x1="533.90" y1="395.00" x2="533.90" y2="400.20" stroke="#000" stroke-width="1.6"/>
<text transform="translate(486.46 414.30) scale(1.0000 1)" font-size="12.62" font-weight="bold" fill="#000">C</text>
<text transform="translate(507.51 414.30) scale(1.0000 1)" font-size="12.62" font-weight="bold" fill="#000">Q</text>
<text transform="translate(529.42 414.30) scale(1.0000 1)" font-size="12.80" font-weight="bold" fill="#000">P</text>
<text transform="translate(427.93 372.64) rotate(-90) scale(1.0771 1)" font-size="12.87" font-weight="bold" fill="#000">MtROS (MFI)</text>
<line x1="496.70" y1="260.10" x2="535.70" y2="260.10" stroke="#000" stroke-width="1.5"/>
<text transform="translate(493.77 255.20) scale(0.9075 1)" font-size="10.75" font-weight="bold" fill="#000">p= 0.0151</text>
<line x1="491.40" y1="279.60" x2="512.50" y2="279.60" stroke="#000" stroke-width="1.5"/>
<text transform="translate(478.37 274.30) scale(0.9261 1)" font-size="10.47" font-weight="bold" fill="#000">p = 0.0355</text>
<line x1="491.10" y1="296.40" x2="491.10" y2="301.00" stroke="#000" stroke-width="1.3"/>
<line x1="487.70" y1="296.40" x2="494.50" y2="296.40" stroke="#000" stroke-width="1.3"/>
<line x1="487.70" y1="301.00" x2="494.50" y2="301.00" stroke="#000" stroke-width="1.3"/>
<circle cx="487.60" cy="296.10" r="2.1" fill="#000"/>
<circle cx="487.60" cy="301.10" r="2.1" fill="#000"/>
<circle cx="494.70" cy="299.60" r="2.1" fill="#000"/>
<line x1="512.40" y1="286.30" x2="512.40" y2="296.30" stroke="#000" stroke-width="1.3"/>
<line x1="509.00" y1="286.30" x2="515.80" y2="286.30" stroke="#000" stroke-width="1.3"/>
<line x1="509.00" y1="296.30" x2="515.80" y2="296.30" stroke="#000" stroke-width="1.3"/>
<rect x="506.60" y="285.70" width="3.80" height="3.80" fill="#000"/>
<rect x="514.60" y="286.10" width="3.80" height="3.80" fill="#000"/>
<rect x="510.40" y="293.70" width="3.80" height="3.80" fill="#000"/>
<line x1="533.90" y1="281.30" x2="533.90" y2="292.30" stroke="#000" stroke-width="1.3"/>
<line x1="530.30" y1="281.30" x2="537.50" y2="281.30" stroke="#000" stroke-width="1.3"/>
<line x1="530.30" y1="292.30" x2="537.50" y2="292.30" stroke="#000" stroke-width="1.3"/>
<polygon points="530.30,281.64 528.25,285.20 532.35,285.20" fill="#000" stroke="none" stroke-width="1"/>
<polygon points="537.40,283.04 535.35,286.60 539.45,286.60" fill="#000" stroke="none" stroke-width="1"/>
<polygon points="533.90,290.64 531.85,294.20 535.95,294.20" fill="#000" stroke="none" stroke-width="1"/>
<text transform="translate(550.59 249.00) scale(1.0274 1)" font-size="23.72" font-weight="bold" fill="#000">h</text>
<text transform="translate(578.38 249.20) scale(0.9920 1)" font-size="17.20" font-weight="bold" fill="#000">U87-mIDH</text>
<rect x="621.05" y="295.10" width="12.90" height="98.50" fill="#d4d4d4" stroke="#2a2a2a" stroke-width="1.1"/>
<rect x="642.75" y="308.40" width="12.30" height="85.20" fill="#a3a2a6" stroke="#2a2a2a" stroke-width="1.1"/>
<rect x="663.85" y="304.70" width="12.50" height="88.90" fill="#5f5f5f" stroke="#2a2a2a" stroke-width="1.1"/>
<line x1="613.50" y1="269.60" x2="613.50" y2="394.40" stroke="#000" stroke-width="1.6"/>
<line x1="608.30" y1="393.60" x2="613.50" y2="393.60" stroke="#000" stroke-width="1.6"/>
<text transform="translate(600.27 398.20) scale(1.0600 1)" font-size="11.60" font-weight="bold" fill="#000">0</text>
<line x1="608.30" y1="362.80" x2="613.50" y2="362.80" stroke="#000" stroke-width="1.6"/>
<text transform="translate(572.91 367.40) scale(1.0600 1)" font-size="11.60" font-weight="bold" fill="#000">20000</text>
<line x1="608.30" y1="332.00" x2="613.50" y2="332.00" stroke="#000" stroke-width="1.6"/>
<text transform="translate(572.91 336.60) scale(1.0600 1)" font-size="11.60" font-weight="bold" fill="#000">40000</text>
<line x1="608.30" y1="301.20" x2="613.50" y2="301.20" stroke="#000" stroke-width="1.6"/>
<text transform="translate(572.91 305.80) scale(1.0600 1)" font-size="11.60" font-weight="bold" fill="#000">60000</text>
<line x1="608.30" y1="270.40" x2="613.50" y2="270.40" stroke="#000" stroke-width="1.6"/>
<text transform="translate(572.91 275.00) scale(1.0600 1)" font-size="11.60" font-weight="bold" fill="#000">80000</text>
<line x1="608.90" y1="393.60" x2="685.50" y2="393.60" stroke="#000" stroke-width="1.6"/>
<line x1="627.30" y1="393.60" x2="627.30" y2="398.80" stroke="#000" stroke-width="1.6"/>
<line x1="648.60" y1="393.60" x2="648.60" y2="398.80" stroke="#000" stroke-width="1.6"/>
<line x1="670.10" y1="393.60" x2="670.10" y2="398.80" stroke="#000" stroke-width="1.6"/>
<text transform="translate(622.77 412.60) scale(1.0000 1)" font-size="12.33" font-weight="bold" fill="#000">C</text>
<text transform="translate(643.82 412.60) scale(1.0000 1)" font-size="12.33" font-weight="bold" fill="#000">Q</text>
<text transform="translate(665.72 412.60) scale(1.0000 1)" font-size="12.51" font-weight="bold" fill="#000">P</text>
<text transform="translate(564.49 371.23) rotate(-90) scale(1.0529 1)" font-size="13.08" font-weight="bold" fill="#000">MtROS (MFI)</text>
<line x1="628.40" y1="268.40" x2="669.80" y2="268.40" stroke="#000" stroke-width="1.5"/>
<text transform="translate(626.29 263.10) scale(0.9245 1)" font-size="10.18" font-weight="bold" fill="#000">p = 0.0033</text>
<line x1="628.40" y1="286.10" x2="648.50" y2="286.10" stroke="#000" stroke-width="1.5"/>
<text transform="translate(615.38 280.80) scale(0.8851 1)" font-size="10.75" font-weight="bold" fill="#000">p = 0.0006</text>
<line x1="627.50" y1="292.30" x2="627.50" y2="296.50" stroke="#000" stroke-width="1.3"/>
<line x1="623.70" y1="292.30" x2="631.30" y2="292.30" stroke="#000" stroke-width="1.3"/>
<line x1="623.70" y1="296.50" x2="631.30" y2="296.50" stroke="#000" stroke-width="1.3"/>
<circle cx="624.20" cy="291.70" r="2.1" fill="#000"/>
<circle cx="624.20" cy="297.30" r="2.1" fill="#000"/>
<circle cx="631.40" cy="295.10" r="2.1" fill="#000"/>
<line x1="648.80" y1="303.90" x2="648.80" y2="309.10" stroke="#000" stroke-width="1.3"/>
<line x1="645.40" y1="303.90" x2="652.20" y2="303.90" stroke="#000" stroke-width="1.3"/>
<line x1="645.40" y1="309.10" x2="652.20" y2="309.10" stroke="#000" stroke-width="1.3"/>
<rect x="641.80" y="307.30" width="3.60" height="3.60" fill="#000"/>
<rect x="647.40" y="302.70" width="3.60" height="3.60" fill="#000"/>
<rect x="652.50" y="305.50" width="3.60" height="3.60" fill="#000"/>
<line x1="670.20" y1="302.40" x2="670.20" y2="306.20" stroke="#000" stroke-width="1.3"/>
<line x1="666.80" y1="302.40" x2="673.60" y2="302.40" stroke="#000" stroke-width="1.3"/>
<line x1="666.80" y1="306.20" x2="673.60" y2="306.20" stroke="#000" stroke-width="1.3"/>
<polygon points="664.60,302.96 662.66,306.33 666.54,306.33" fill="#000" stroke="none" stroke-width="1"/>
<polygon points="670.20,299.76 668.26,303.13 672.14,303.13" fill="#000" stroke="none" stroke-width="1"/>
<polygon points="675.80,302.46 673.86,305.83 677.74,305.83" fill="#000" stroke="none" stroke-width="1"/>
<text transform="translate(6.27 449.40) scale(1.1515 1)" font-size="24.00" font-weight="bold" fill="#000">i</text>
<rect x="16.40" y="439.90" width="257.80" height="203.90" fill="none" stroke="#6f9ae0" stroke-width="1.1"/>
<text transform="translate(111.36 458.90) scale(0.9001 1)" font-size="12.28" font-weight="bold" fill="#262626">Citrate</text>
<text transform="translate(207.43 457.90) scale(0.9102 1)" font-size="12.00" font-weight="bold" fill="#262626">Acetyl-CoA</text>
<line x1="148.60" y1="455.00" x2="192.00" y2="455.00" stroke="#262626" stroke-width="1.7"/>
<polygon points="190.80,451.50 199.30,455.00 190.80,458.50" fill="#262626" stroke="none" stroke-width="1"/>
<line x1="237.90" y1="466.30" x2="237.90" y2="528.00" stroke="#262626" stroke-width="2.4"/>
<polygon points="232.80,527.00 243.00,527.00 237.90,536.40" fill="#262626" stroke="none" stroke-width="1"/>
<text transform="translate(226.25 556.20) scale(0.9239 1)" font-size="12.00" font-weight="bold" fill="#262626">Lipid</text>
<text transform="translate(214.22 569.70) scale(0.8436 1)" font-size="12.83" font-weight="bold" fill="#262626">synthesis</text>
<line x1="129.40" y1="555.00" x2="129.40" y2="518.00" stroke="#262626" stroke-width="2.4"/>
<polygon points="124.60,519.00 134.20,519.00 129.40,509.90" fill="#262626" stroke="none" stroke-width="1"/>
<line x1="129.40" y1="506.00" x2="129.40" y2="475.00" stroke="#262626" stroke-width="2.4"/>
<polygon points="124.60,476.00 134.20,476.00 129.40,467.00" fill="#262626" stroke="none" stroke-width="1"/>
<text transform="translate(146.07 499.10) scale(0.8575 1)" font-size="12.69" font-weight="bold" fill="#e8262d">Reductive</text>
<text transform="translate(136.36 511.50) scale(0.8858 1)" font-size="12.41" font-weight="bold" fill="#e8262d">carboxylation</text>
<text transform="translate(134.85 543.10) scale(0.9489 1)" font-size="11.78" font-weight="bold" fill="#262626">IDH1</text>
<text transform="translate(47.50 543.10) scale(0.9330 1)" font-size="10.47" font-weight="bold" fill="#262626">TCA</text>
<text transform="translate(44.60 554.20) scale(0.9102 1)" font-size="10.90" font-weight="bold" fill="#262626">cycle</text>
<path d="M 46.61 516.43 A 29.0 29.0 0 0 1 75.64 521.28" fill="none" stroke="#262626" stroke-width="1.4"/>
<polygon points="77.17,522.57 71.54,521.50 75.14,517.21" fill="#262626" stroke="none" stroke-width="1"/>
<path d="M 85.56 538.46 A 29.0 29.0 0 0 1 83.07 556.21" fill="none" stroke="#262626" stroke-width="1.4"/>
<polygon points="82.19,558.01 81.86,552.29 86.90,554.74" fill="#262626" stroke="none" stroke-width="1"/>
<path d="M 70.17 569.34 A 29.0 29.0 0 0 1 39.55 566.66" fill="none" stroke="#262626" stroke-width="1.4"/>
<polygon points="37.95,565.46 43.63,566.23 40.26,570.70" fill="#262626" stroke="none" stroke-width="1"/>
<path d="M 28.28 547.54 A 29.0 29.0 0 0 1 30.72 531.24" fill="none" stroke="#262626" stroke-width="1.4"/>
<polygon points="31.56,529.43 31.99,535.15 26.91,532.78" fill="#262626" stroke="none" stroke-width="1"/>
<text transform="translate(115.45 566.00) scale(0.9313 1)" font-size="12.04" font-weight="bold" fill="#262626">α-KG</text>
<line x1="85.00" y1="561.50" x2="111.00" y2="561.50" stroke="#262626" stroke-width="1.3"/>
<polygon points="81.70,561.50 87.20,558.90 87.20,564.10" fill="#262626" stroke="none" stroke-width="1"/>
<polygon points="114.10,561.50 108.60,558.90 108.60,564.10" fill="#262626" stroke="none" stroke-width="1"/>
<line x1="150.50" y1="561.50" x2="172.50" y2="561.50" stroke="#262626" stroke-width="1.3"/>
<polygon points="147.40,561.50 152.90,558.90 152.90,564.10" fill="#262626" stroke="none" stroke-width="1"/>
<polygon points="175.50,561.50 170.00,558.90 170.00,564.10" fill="#262626" stroke="none" stroke-width="1"/>
<text transform="translate(49.63 588.30) scale(0.9667 1)" font-size="12.04" font-weight="bold" fill="#262626" font-style="italic">AGI-5198</text>
<line x1="104.10" y1="585.20" x2="124.00" y2="585.20" stroke="#e8262d" stroke-width="1.8"/>
<line x1="124.00" y1="581.00" x2="124.00" y2="589.60" stroke="#e8262d" stroke-width="1.8"/>
<line x1="127.90" y1="573.90" x2="127.90" y2="598.50" stroke="#262626" stroke-width="2.4"/>
<polygon points="123.00,597.50 132.80,597.50 127.90,606.70" fill="#262626" stroke="none" stroke-width="1"/>
<text transform="translate(132.25 588.30) scale(0.9075 1)" font-size="12.22" font-weight="bold" fill="#3d8fd6">IDH1</text>
<text transform="translate(158.22 584.40) scale(1.0932 1)" font-size="6.45" font-weight="bold" fill="#3d8fd6">R132H</text>
<text transform="translate(116.29 619.30) scale(1.0321 1)" font-size="11.33" font-weight="bold" fill="#262626">2-HG</text>
<text transform="translate(83.84 631.70) scale(1.0293 1)" font-size="10.90" font-weight="bold" fill="#262626">(Oncometabolite)</text>
<text transform="translate(304.60 447.70) scale(1.1236 1)" font-size="24.00" font-weight="bold" fill="#000">j</text>
<text transform="translate(322.34 447.50) scale(0.9968 1)" font-size="17.20" font-weight="bold" fill="#000">IDHR132H</text>
<rect x="352.15" y="524.30" width="12.90" height="87.60" fill="#d4d4d4" stroke="#2a2a2a" stroke-width="1.1"/>
<rect x="373.85" y="525.90" width="14.10" height="86.00" fill="#a3a2a6" stroke="#2a2a2a" stroke-width="1.1"/>
<rect x="396.55" y="515.60" width="13.60" height="96.30" fill="#5f5f5f" stroke="#2a2a2a" stroke-width="1.1"/>
<rect x="419.15" y="493.90" width="13.60" height="118.00" fill="#7f7f7f" stroke="#2a2a2a" stroke-width="1.1"/>
<line x1="343.50" y1="472.87" x2="343.50" y2="612.70" stroke="#000" stroke-width="1.6"/>
<line x1="338.30" y1="611.90" x2="343.50" y2="611.90" stroke="#000" stroke-width="1.6"/>
<text transform="translate(318.58 616.30) scale(1.1000 1)" font-size="12.20" font-weight="bold" fill="#000">0.0</text>
<line x1="338.30" y1="565.82" x2="343.50" y2="565.82" stroke="#000" stroke-width="1.6"/>
<text transform="translate(318.42 570.22) scale(1.1000 1)" font-size="12.20" font-weight="bold" fill="#000">0.5</text>
<line x1="338.30" y1="519.75" x2="343.50" y2="519.75" stroke="#000" stroke-width="1.6"/>
<text transform="translate(318.58 524.15) scale(1.1000 1)" font-size="12.20" font-weight="bold" fill="#000">1.0</text>
<line x1="338.30" y1="473.67" x2="343.50" y2="473.67" stroke="#000" stroke-width="1.6"/>
<text transform="translate(318.42 478.07) scale(1.1000 1)" font-size="12.20" font-weight="bold" fill="#000">1.5</text>
<line x1="338.30" y1="611.90" x2="441.60" y2="611.90" stroke="#000" stroke-width="1.6"/>
<line x1="358.40" y1="611.90" x2="358.40" y2="617.30" stroke="#000" stroke-width="1.6"/>
<line x1="380.80" y1="611.90" x2="380.80" y2="617.30" stroke="#000" stroke-width="1.6"/>
<line x1="403.10" y1="611.90" x2="403.10" y2="617.30" stroke="#000" stroke-width="1.6"/>
<line x1="425.70" y1="611.90" x2="425.70" y2="617.30" stroke="#000" stroke-width="1.6"/>
<text transform="translate(362.70 629.60) scale(1.000 1) rotate(-45)" font-size="13.60" font-weight="bold" text-anchor="end" fill="#000">C</text>
<text transform="translate(385.10 629.60) scale(1.000 1) rotate(-45)" font-size="13.60" font-weight="bold" text-anchor="end" fill="#000">C/AGI</text>
<text transform="translate(407.40 629.60) scale(1.000 1) rotate(-45)" font-size="13.60" font-weight="bold" text-anchor="end" fill="#000">P</text>
<text transform="translate(430.00 629.60) scale(1.000 1) rotate(-45)" font-size="13.60" font-weight="bold" text-anchor="end" fill="#000">P/AGI</text>
<text transform="translate(312.25 583.12) rotate(-90) scale(0.9141 1)" font-size="14.97" font-weight="bold" fill="#000">Relative LPO</text>
<line x1="381.20" y1="462.40" x2="425.60" y2="462.40" stroke="#000" stroke-width="1.5"/>
<text transform="translate(378.22 457.00) scale(0.9710 1)" font-size="10.75" font-weight="bold" fill="#000">p = 0.0002</text>
<line x1="403.70" y1="480.40" x2="425.60" y2="480.40" stroke="#000" stroke-width="1.5"/>
<text transform="translate(388.91 475.20) scale(0.8972 1)" font-size="11.76" font-weight="bold" fill="#000">p = 0.0070</text>
<line x1="358.60" y1="506.80" x2="403.70" y2="506.80" stroke="#000" stroke-width="1.5"/>
<text transform="translate(355.51 501.60) scale(0.8989 1)" font-size="11.76" font-weight="bold" fill="#000">p = 0.3688</text>
<line x1="358.40" y1="520.80" x2="358.40" y2="528.40" stroke="#000" stroke-width="1.3"/>
<line x1="354.90" y1="520.80" x2="361.90" y2="520.80" stroke="#000" stroke-width="1.3"/>
<line x1="354.90" y1="528.40" x2="361.90" y2="528.40" stroke="#000" stroke-width="1.3"/>
<circle cx="354.70" cy="521.20" r="2.0" fill="#000"/>
<circle cx="362.30" cy="523.50" r="2.0" fill="#000"/>
<circle cx="358.20" cy="528.20" r="2.0" fill="#000"/>
<line x1="381.00" y1="515.90" x2="381.00" y2="535.30" stroke="#000" stroke-width="1.3"/>
<line x1="377.20" y1="515.90" x2="384.80" y2="515.90" stroke="#000" stroke-width="1.3"/>
<line x1="377.20" y1="535.30" x2="384.80" y2="535.30" stroke="#000" stroke-width="1.3"/>
<polygon points="381.00,514.66 378.93,511.06 383.07,511.06" fill="#000" stroke="none" stroke-width="1"/>
<polygon points="381.00,525.96 378.93,522.36 383.07,522.36" fill="#000" stroke="none" stroke-width="1"/>
<polygon points="385.00,532.66 382.93,529.06 387.07,529.06" fill="#000" stroke="none" stroke-width="1"/>
<polygon points="378.00,535.96 375.93,532.36 380.07,532.36" fill="#000" stroke="none" stroke-width="1"/>
<line x1="403.10" y1="514.50" x2="403.10" y2="517.50" stroke="#000" stroke-width="1.3"/>
<line x1="399.60" y1="514.50" x2="406.60" y2="514.50" stroke="#000" stroke-width="1.3"/>
<line x1="399.60" y1="517.50" x2="406.60" y2="517.50" stroke="#000" stroke-width="1.3"/>
<polygon points="399.80,516.04 397.75,519.60 401.85,519.60" fill="#000" stroke="none" stroke-width="1"/>
<polygon points="406.00,513.04 403.95,516.60 408.05,516.60" fill="#000" stroke="none" stroke-width="1"/>
<polygon points="401.20,512.64 399.15,516.20 403.25,516.20" fill="#000" stroke="none" stroke-width="1"/>
<line x1="426.00" y1="487.30" x2="426.00" y2="501.70" stroke="#000" stroke-width="1.3"/>
<line x1="422.50" y1="487.30" x2="429.50" y2="487.30" stroke="#000" stroke-width="1.3"/>
<line x1="422.50" y1="501.70" x2="429.50" y2="501.70" stroke="#000" stroke-width="1.3"/>
<circle cx="426.10" cy="485.60" r="2.1" fill="#fff" stroke="#000" stroke-width="1.1"/>
<circle cx="422.00" cy="494.40" r="2.1" fill="#fff" stroke="#000" stroke-width="1.1"/>
<circle cx="429.90" cy="495.10" r="2.1" fill="#fff" stroke="#000" stroke-width="1.1"/>
<circle cx="426.10" cy="503.30" r="2.1" fill="#fff" stroke="#000" stroke-width="1.1"/>
<text transform="translate(447.45 449.60) scale(0.9662 1)" font-size="24.41" font-weight="bold" fill="#000">k</text>
<line x1="492.40" y1="455.80" x2="492.40" y2="606.00" stroke="#000" stroke-width="1.6"/>
<line x1="487.20" y1="605.20" x2="492.40" y2="605.20" stroke="#000" stroke-width="1.6"/>
<text transform="translate(479.44 609.90) scale(0.9500 1)" font-size="12.60" font-weight="bold" fill="#000">0</text>
<line x1="487.20" y1="578.26" x2="492.40" y2="578.26" stroke="#000" stroke-width="1.6"/>
<text transform="translate(472.79 582.96) scale(0.9500 1)" font-size="12.60" font-weight="bold" fill="#000">20</text>
<line x1="487.20" y1="551.32" x2="492.40" y2="551.32" stroke="#000" stroke-width="1.6"/>
<text transform="translate(472.79 556.02) scale(0.9500 1)" font-size="12.60" font-weight="bold" fill="#000">40</text>
<line x1="487.20" y1="524.38" x2="492.40" y2="524.38" stroke="#000" stroke-width="1.6"/>
<text transform="translate(472.79 529.08) scale(0.9500 1)" font-size="12.60" font-weight="bold" fill="#000">60</text>
<line x1="487.20" y1="497.44" x2="492.40" y2="497.44" stroke="#000" stroke-width="1.6"/>
<text transform="translate(472.79 502.14) scale(0.9500 1)" font-size="12.60" font-weight="bold" fill="#000">80</text>
<line x1="487.20" y1="470.50" x2="492.40" y2="470.50" stroke="#000" stroke-width="1.6"/>
<text transform="translate(466.12 475.20) scale(0.9500 1)" font-size="12.60" font-weight="bold" fill="#000">100</text>
<line x1="487.20" y1="605.20" x2="673.50" y2="605.20" stroke="#000" stroke-width="1.6"/>
<line x1="492.40" y1="605.20" x2="492.40" y2="610.20" stroke="#000" stroke-width="1.6"/>
<text transform="translate(488.99 623.90) scale(1.0700 1)" font-size="11.50" font-weight="bold" fill="#000">0</text>
<line x1="528.57" y1="605.20" x2="528.57" y2="610.20" stroke="#000" stroke-width="1.6"/>
<text transform="translate(521.77 623.90) scale(1.0700 1)" font-size="11.50" font-weight="bold" fill="#000">20</text>
<line x1="564.74" y1="605.20" x2="564.74" y2="610.20" stroke="#000" stroke-width="1.6"/>
<text transform="translate(558.06 623.90) scale(1.0700 1)" font-size="11.50" font-weight="bold" fill="#000">40</text>
<line x1="600.91" y1="605.20" x2="600.91" y2="610.20" stroke="#000" stroke-width="1.6"/>
<text transform="translate(594.10 623.90) scale(1.0700 1)" font-size="11.50" font-weight="bold" fill="#000">60</text>
<line x1="637.08" y1="605.20" x2="637.08" y2="610.20" stroke="#000" stroke-width="1.6"/>
<text transform="translate(630.30 623.90) scale(1.0700 1)" font-size="11.50" font-weight="bold" fill="#000">80</text>
<line x1="673.25" y1="605.20" x2="673.25" y2="610.20" stroke="#000" stroke-width="1.6"/>
<text transform="translate(662.85 623.90) scale(1.0700 1)" font-size="11.50" font-weight="bold" fill="#000">100</text>
<text transform="translate(568.50 642.70) scale(0.9310 1)" font-size="12.80" font-weight="bold" fill="#000">Days</text>
<text transform="translate(459.60 596.17) rotate(-90) scale(1.1128 1)" font-size="11.58" font-weight="bold" fill="#000">Probability of Survival</text>
<text transform="translate(494.69 454.00) scale(1.1634 1)" font-size="8.75" font-weight="bold" fill="#000">5x10</text>
<text transform="translate(517.62 450.90) scale(0.8965 1)" font-size="6.25" font-weight="bold" fill="#000">4</text>
<text transform="translate(521.60 454.00) scale(1.0373 1)" font-size="8.87" font-weight="bold" fill="#000">mutIDH</text>
<text transform="translate(494.35 465.40) scale(1.1071 1)" font-size="8.41" font-weight="bold" fill="#000">in C57BL/6 mice</text>
<polyline points="492.40,470.50 536.71,470.50 536.71,477.99 541.41,477.99 541.41,485.47 543.04,485.47 543.04,492.95 544.67,492.95 544.67,500.43 548.64,500.43 548.64,507.92 552.26,507.92 552.26,515.40 559.13,515.40 559.13,530.36 564.56,530.36 564.56,545.34 575.23,545.34 575.23,552.82 655.16,552.82" fill="none" stroke="#f4a3ee" stroke-width="1.5" stroke-linejoin="miter"/>
<polygon points="536.71,475.89 534.33,480.01 539.08,480.01" fill="#f4a3ee" stroke="none" stroke-width="1"/>
<polygon points="541.41,483.37 539.04,487.49 543.79,487.49" fill="#f4a3ee" stroke="none" stroke-width="1"/>
<polygon points="543.04,490.85 540.66,494.98 545.41,494.98" fill="#f4a3ee" stroke="none" stroke-width="1"/>
<polygon points="544.67,498.33 542.29,502.46 547.04,502.46" fill="#f4a3ee" stroke="none" stroke-width="1"/>
<polygon points="548.64,505.82 546.27,509.94 551.02,509.94" fill="#f4a3ee" stroke="none" stroke-width="1"/>
<polygon points="552.26,513.30 549.89,517.42 554.64,517.42" fill="#f4a3ee" stroke="none" stroke-width="1"/>
<polygon points="559.13,528.26 556.76,532.39 561.51,532.39" fill="#f4a3ee" stroke="none" stroke-width="1"/>
<polygon points="564.56,543.24 562.18,547.36 566.93,547.36" fill="#f4a3ee" stroke="none" stroke-width="1"/>
<polygon points="575.23,550.72 572.85,554.84 577.60,554.84" fill="#f4a3ee" stroke="none" stroke-width="1"/>
<polygon points="600.91,550.72 598.53,554.84 603.28,554.84" fill="#f4a3ee" stroke="none" stroke-width="1"/>
<polygon points="655.16,550.72 652.79,554.84 657.54,554.84" fill="#f4a3ee" stroke="none" stroke-width="1"/>
<polyline points="492.40,470.50 530.38,470.50 530.38,497.44 534.00,497.44 534.00,510.91 537.61,510.91 537.61,524.38 541.23,524.38 541.23,537.85 543.04,537.85 543.04,551.32 546.65,551.32 546.65,564.79 557.51,564.79 557.51,578.26 562.93,578.26 562.93,591.73 591.87,591.73 591.87,605.20" fill="none" stroke="#000" stroke-width="1.5" stroke-linejoin="miter"/>
<circle cx="530.38" cy="497.44" r="2.8" fill="#000"/>
<circle cx="534.00" cy="510.91" r="2.8" fill="#000"/>
<circle cx="537.61" cy="524.38" r="2.8" fill="#000"/>
<circle cx="541.23" cy="537.85" r="2.8" fill="#000"/>
<circle cx="543.04" cy="551.32" r="2.8" fill="#000"/>
<circle cx="546.65" cy="564.79" r="2.8" fill="#000"/>
<circle cx="557.51" cy="578.26" r="2.8" fill="#000"/>
<circle cx="562.93" cy="591.73" r="2.8" fill="#000"/>
<circle cx="591.87" cy="605.20" r="2.8" fill="#000"/>
<line x1="569.60" y1="481.10" x2="581.10" y2="481.10" stroke="#000" stroke-width="1.5"/>
<circle cx="575.00" cy="481.10" r="2.8" fill="#000"/>
<text transform="translate(587.41 486.00) scale(1.0582 1)" font-size="11.59" font-weight="bold" fill="#000">C/AGI (n=10)</text>
<line x1="569.60" y1="501.20" x2="581.10" y2="501.20" stroke="#f4a3ee" stroke-width="1.5"/>
<polygon points="575.00,499.10 572.62,503.23 577.38,503.23" fill="#f4a3ee" stroke="none" stroke-width="1"/>
<text transform="translate(587.06 505.80) scale(1.0732 1)" font-size="11.59" font-weight="bold" fill="#000">P/AGI (n=18)</text>
<polyline points="663.40,477.30 668.50,477.30 668.50,503.50 663.40,503.50" fill="none" stroke="#000" stroke-width="1.2" stroke-linejoin="miter"/>
<line x1="675.40" y1="489.20" x2="675.40" y2="494.40" stroke="#000" stroke-width="1.35"/>
<line x1="673.15" y1="490.50" x2="677.65" y2="493.10" stroke="#000" stroke-width="1.35"/>
<line x1="677.65" y1="490.50" x2="673.15" y2="493.10" stroke="#000" stroke-width="1.35"/>
<line x1="682.40" y1="489.20" x2="682.40" y2="494.40" stroke="#000" stroke-width="1.35"/>
<line x1="680.15" y1="490.50" x2="684.65" y2="493.10" stroke="#000" stroke-width="1.35"/>
<line x1="684.65" y1="490.50" x2="680.15" y2="493.10" stroke="#000" stroke-width="1.35"/>
<line x1="595.10" y1="518.80" x2="595.10" y2="523.00" stroke="#000" stroke-width="1.2"/>
<line x1="593.28" y1="519.85" x2="596.92" y2="521.95" stroke="#000" stroke-width="1.2"/>
<line x1="596.92" y1="519.85" x2="593.28" y2="521.95" stroke="#000" stroke-width="1.2"/>
<line x1="599.60" y1="518.80" x2="599.60" y2="523.00" stroke="#000" stroke-width="1.2"/>
<line x1="597.78" y1="519.85" x2="601.42" y2="521.95" stroke="#000" stroke-width="1.2"/>
<line x1="601.42" y1="519.85" x2="597.78" y2="521.95" stroke="#000" stroke-width="1.2"/>
<text transform="translate(601.72 527.80) scale(0.9112 1)" font-size="13.19" font-weight="bold" fill="#000">p=0.0021</text>
<text transform="translate(7.32 681.90) scale(0.9729 1)" font-size="23.17" font-weight="bold" fill="#000">l</text>
<text transform="translate(64.47 693.20) scale(1.0328 1)" font-size="16.69" font-weight="bold" fill="#000">U87-mIDH tumor model</text>
<text transform="translate(25.90 747.12) rotate(-90) scale(0.8077 1)" font-size="16.87" font-weight="bold" fill="#000">P</text>
<text transform="translate(25.59 849.93) rotate(-90) scale(0.8811 1)" font-size="15.57" font-weight="bold" fill="#000">P/AGI</text>
<text transform="translate(314.49 682.30) scale(1.0017 1)" font-size="24.74" font-weight="bold" fill="#000">m</text>
<line x1="368.20" y1="694.40" x2="368.20" y2="845.80" stroke="#000" stroke-width="1.6"/>
<line x1="363.00" y1="845.00" x2="368.20" y2="845.00" stroke="#000" stroke-width="1.6"/>
<text transform="translate(353.43 849.70) scale(1.0700 1)" font-size="13.20" font-weight="bold" fill="#000">0</text>
<line x1="363.00" y1="815.04" x2="368.20" y2="815.04" stroke="#000" stroke-width="1.6"/>
<text transform="translate(345.59 819.74) scale(1.0700 1)" font-size="13.20" font-weight="bold" fill="#000">50</text>
<line x1="363.00" y1="785.08" x2="368.20" y2="785.08" stroke="#000" stroke-width="1.6"/>
<text transform="translate(337.71 789.78) scale(1.0700 1)" font-size="13.20" font-weight="bold" fill="#000">100</text>
<line x1="363.00" y1="755.12" x2="368.20" y2="755.12" stroke="#000" stroke-width="1.6"/>
<text transform="translate(337.71 759.82) scale(1.0700 1)" font-size="13.20" font-weight="bold" fill="#000">150</text>
<line x1="363.00" y1="725.16" x2="368.20" y2="725.16" stroke="#000" stroke-width="1.6"/>
<text transform="translate(337.71 729.86) scale(1.0700 1)" font-size="13.20" font-weight="bold" fill="#000">200</text>
<line x1="363.00" y1="695.20" x2="368.20" y2="695.20" stroke="#000" stroke-width="1.6"/>
<text transform="translate(337.71 699.90) scale(1.0700 1)" font-size="13.20" font-weight="bold" fill="#000">250</text>
<line x1="363.00" y1="845.00" x2="458.00" y2="845.00" stroke="#000" stroke-width="1.6"/>
<line x1="393.60" y1="845.00" x2="393.60" y2="850.20" stroke="#000" stroke-width="1.6"/>
<line x1="432.30" y1="845.00" x2="432.30" y2="850.20" stroke="#000" stroke-width="1.6"/>
<text transform="translate(388.37 864.60) scale(1.0678 1)" font-size="14.25" font-weight="bold" fill="#000">P</text>
<text transform="translate(413.06 864.60) scale(1.0293 1)" font-size="13.52" font-weight="bold" fill="#000">P/AGI</text>
<text transform="translate(329.51 836.44) rotate(-90) scale(1.0877 1)" font-size="12.98" font-weight="bold" fill="#000">Tumor volume (mm</text>
<text transform="translate(330.3 702.9) rotate(-90)" font-size="13" font-weight="bold">)</text>
<text transform="translate(322.4 708.0) rotate(-90)" font-size="8.3" font-weight="bold">3</text>
<circle cx="393.60" cy="718.80" r="2.6" fill="#000"/>
<circle cx="393.60" cy="741.60" r="2.6" fill="#000"/>
<circle cx="393.60" cy="770.30" r="2.6" fill="#000"/>
<line x1="380.90" y1="741.60" x2="407.10" y2="741.60" stroke="#000" stroke-width="1.6"/>
<polygon points="432.30,826.10 430.12,829.89 434.49,829.89" fill="#000" stroke="none" stroke-width="1"/>
<polygon points="432.30,830.30 430.12,834.10 434.49,834.10" fill="#000" stroke="none" stroke-width="1"/>
<polygon points="432.30,834.10 430.12,837.89 434.49,837.89" fill="#000" stroke="none" stroke-width="1"/>
<line x1="420.00" y1="832.30" x2="445.00" y2="832.30" stroke="#000" stroke-width="1.6"/>
<polyline points="393.40,711.10 393.40,703.50 432.60,703.50 432.60,711.10" fill="none" stroke="#000" stroke-width="1.5" stroke-linejoin="miter"/>
<text transform="translate(387.01 698.40) scale(1.1040 1)" font-size="9.61" font-weight="bold" fill="#000">p = 0.0041</text>
</svg>
</body></html>
